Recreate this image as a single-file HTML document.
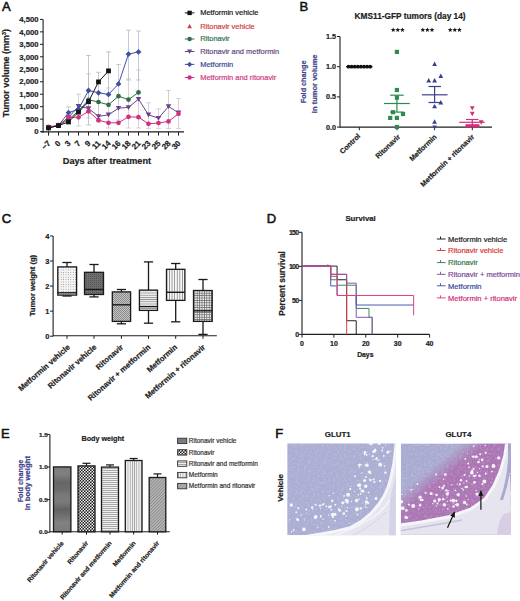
<!DOCTYPE html>
<html><head><meta charset="utf-8"><style>
html,body{margin:0;padding:0;background:#fff;}
svg{display:block;}
text{font-family:"Liberation Sans", sans-serif;}
</style></head><body>
<svg width="520" height="601" viewBox="0 0 520 601" font-family='"Liberation Sans", sans-serif'>
<rect width="520" height="601" fill="#fff"/>
<defs>
<pattern id="p_dots" width="2.4" height="2.4" patternUnits="userSpaceOnUse"><rect width="2.4" height="2.4" fill="#f4f4f4"/><circle cx="1.2" cy="1.2" r="0.45" fill="#777"/></pattern>
<pattern id="p_dark" width="2" height="2" patternUnits="userSpaceOnUse"><rect width="2" height="2" fill="#6e6e6e"/><rect width="1" height="1" fill="#555"/></pattern>
<pattern id="p_check" width="2" height="2" patternUnits="userSpaceOnUse"><rect width="2" height="2" fill="#c4c4c4"/><rect width="1" height="1" fill="#8a8a8a"/><rect x="1" y="1" width="1" height="1" fill="#8a8a8a"/></pattern>
<pattern id="p_hlines" width="3" height="2.2" patternUnits="userSpaceOnUse"><rect width="3" height="2.2" fill="#f2f2f2"/><rect width="3" height="0.8" fill="#8a8a8a"/></pattern>
<pattern id="p_vlines" width="2.6" height="3" patternUnits="userSpaceOnUse"><rect width="2.6" height="3" fill="#f6f6f6"/><rect width="0.7" height="3" fill="#777"/></pattern>
<pattern id="p_grid" width="2.4" height="2.4" patternUnits="userSpaceOnUse"><rect width="2.4" height="2.4" fill="#eeeeee"/><rect width="2.4" height="0.7" fill="#666"/><rect width="0.7" height="2.4" fill="#666"/></pattern>
<linearGradient id="p_bands" gradientUnits="userSpaceOnUse" x1="0" y1="466" x2="0" y2="532">
<stop offset="0" stop-color="#7c7c7c"/><stop offset="0.12" stop-color="#808080"/><stop offset="0.25" stop-color="#666"/><stop offset="0.36" stop-color="#6c6c6c"/>
<stop offset="0.45" stop-color="#7a7a7a"/><stop offset="0.55" stop-color="#7a7a7a"/><stop offset="0.66" stop-color="#626262"/><stop offset="0.76" stop-color="#707070"/><stop offset="0.86" stop-color="#828282"/><stop offset="1" stop-color="#7a7a7a"/></linearGradient>
<pattern id="p_checker" x="0" y="0" width="3" height="3" patternUnits="userSpaceOnUse"><rect width="3" height="3" fill="#1a1a1a"/><rect x="0" y="0" width="1.6" height="1.6" rx="0.35" fill="#f6f6f6"/><rect x="1.5" y="1.5" width="1.6" height="1.6" rx="0.35" fill="#f6f6f6"/></pattern>
<pattern id="p_hlines2" width="3" height="2" patternUnits="userSpaceOnUse"><rect width="3" height="2" fill="#f0f0f0"/><rect width="3" height="0.7" fill="#8a8a8a"/></pattern>
<pattern id="p_vlines2" width="2.2" height="3" patternUnits="userSpaceOnUse"><rect width="2.2" height="3" fill="#efefef"/><rect width="0.7" height="3" fill="#9a9a9a"/></pattern>
<pattern id="p_diag" width="2.2" height="2.2" patternUnits="userSpaceOnUse" patternTransform="rotate(45)"><rect width="2.2" height="2.2" fill="#b8b8b8"/><rect width="0.9" height="2.2" fill="#8a8a8a"/></pattern>
<radialGradient id="g_mag" gradientUnits="userSpaceOnUse" cx="520" cy="545" r="125">
<stop offset="0.55" stop-color="#a878bc" stop-opacity="1"/>
<stop offset="0.78" stop-color="#ac86c4" stop-opacity="0.85"/>
<stop offset="1" stop-color="#abacd8" stop-opacity="0"/>
</radialGradient>
<linearGradient id="g_band" gradientUnits="userSpaceOnUse" x1="432.5" y1="466.8" x2="442.5" y2="479.2">
<stop offset="0" stop-color="#ac6aae" stop-opacity="0"/>
<stop offset="1" stop-color="#ac6aae" stop-opacity="0.82"/>
</linearGradient>
<filter id="blur6" x="-30%" y="-30%" width="160%" height="160%"><feGaussianBlur stdDeviation="6"/></filter>
<filter id="mottleL" x="0" y="0" width="100%" height="100%"><feTurbulence type="fractalNoise" baseFrequency="0.45" numOctaves="2" seed="3"/><feColorMatrix type="matrix" values="0 0 0 0 1  0 0 0 0 1  0 0 0 0 1  2.6 0 0 0 -1.25"/></filter>
<filter id="mottleD" x="0" y="0" width="100%" height="100%"><feTurbulence type="fractalNoise" baseFrequency="0.5" numOctaves="2" seed="8"/><feColorMatrix type="matrix" values="0 0 0 0 0.42  0 0 0 0 0.40  0 0 0 0 0.55  0 -2.4 0 0 1.0"/></filter>
</defs>
<text x="1.9" y="11.3" font-size="13" text-anchor="start" fill="#111" stroke="#111" stroke-width="0.55">A</text>
<line x1="43.1" y1="19.4" x2="43.1" y2="132.4" stroke="#1e1e1e" stroke-width="1.1"/>
<line x1="40" y1="19.4" x2="43.1" y2="19.4" stroke="#1e1e1e" stroke-width="1"/>
<text stroke="#222" stroke-width="0.2" x="38.5" y="22.099999999999998" font-size="7.7" font-weight="bold" text-anchor="end" fill="#222">4,500</text>
<line x1="40" y1="31.869999999999997" x2="43.1" y2="31.869999999999997" stroke="#1e1e1e" stroke-width="1"/>
<text stroke="#222" stroke-width="0.2" x="38.5" y="34.57" font-size="7.7" font-weight="bold" text-anchor="end" fill="#222">4,000</text>
<line x1="40" y1="44.34" x2="43.1" y2="44.34" stroke="#1e1e1e" stroke-width="1"/>
<text stroke="#222" stroke-width="0.2" x="38.5" y="47.040000000000006" font-size="7.7" font-weight="bold" text-anchor="end" fill="#222">3,500</text>
<line x1="40" y1="56.81" x2="43.1" y2="56.81" stroke="#1e1e1e" stroke-width="1"/>
<text stroke="#222" stroke-width="0.2" x="38.5" y="59.510000000000005" font-size="7.7" font-weight="bold" text-anchor="end" fill="#222">3,000</text>
<line x1="40" y1="69.28" x2="43.1" y2="69.28" stroke="#1e1e1e" stroke-width="1"/>
<text stroke="#222" stroke-width="0.2" x="38.5" y="71.98" font-size="7.7" font-weight="bold" text-anchor="end" fill="#222">2,500</text>
<line x1="40" y1="81.75" x2="43.1" y2="81.75" stroke="#1e1e1e" stroke-width="1"/>
<text stroke="#222" stroke-width="0.2" x="38.5" y="84.45" font-size="7.7" font-weight="bold" text-anchor="end" fill="#222">2,000</text>
<line x1="40" y1="94.22" x2="43.1" y2="94.22" stroke="#1e1e1e" stroke-width="1"/>
<text stroke="#222" stroke-width="0.2" x="38.5" y="96.92" font-size="7.7" font-weight="bold" text-anchor="end" fill="#222">1,500</text>
<line x1="40" y1="106.69" x2="43.1" y2="106.69" stroke="#1e1e1e" stroke-width="1"/>
<text stroke="#222" stroke-width="0.2" x="38.5" y="109.39" font-size="7.7" font-weight="bold" text-anchor="end" fill="#222">1,000</text>
<line x1="40" y1="119.16" x2="43.1" y2="119.16" stroke="#1e1e1e" stroke-width="1"/>
<text stroke="#222" stroke-width="0.2" x="38.5" y="121.86" font-size="7.7" font-weight="bold" text-anchor="end" fill="#222">500</text>
<line x1="40" y1="131.63" x2="43.1" y2="131.63" stroke="#1e1e1e" stroke-width="1"/>
<text stroke="#222" stroke-width="0.2" x="38.5" y="134.32999999999998" font-size="7.7" font-weight="bold" text-anchor="end" fill="#222">0</text>
<text stroke="#222" stroke-width="0.2" x="0" y="0" font-size="8.95" font-weight="bold" fill="#222" text-anchor="middle" transform="translate(8.9 73.2) rotate(-90)">Tumor volume (mm<tspan font-size="5.5" dy="-3">3</tspan><tspan dy="3">)</tspan></text>
<line x1="41" y1="131.9" x2="184" y2="131.9" stroke="#1e1e1e" stroke-width="1.1"/>
<line x1="48.5" y1="131.9" x2="48.5" y2="135.6" stroke="#1e1e1e" stroke-width="1"/>
<text stroke="#222" stroke-width="0.2" x="51.2" y="143.8" font-size="8.0" font-weight="bold" text-anchor="end" fill="#222" transform="rotate(-45 51.2 143.8)">−7</text>
<line x1="58.5" y1="131.9" x2="58.5" y2="135.6" stroke="#1e1e1e" stroke-width="1"/>
<text stroke="#222" stroke-width="0.2" x="61.2" y="143.8" font-size="8.0" font-weight="bold" text-anchor="end" fill="#222" transform="rotate(-45 61.2 143.8)">0</text>
<line x1="68.5" y1="131.9" x2="68.5" y2="135.6" stroke="#1e1e1e" stroke-width="1"/>
<text stroke="#222" stroke-width="0.2" x="71.2" y="143.8" font-size="8.0" font-weight="bold" text-anchor="end" fill="#222" transform="rotate(-45 71.2 143.8)">3</text>
<line x1="78.5" y1="131.9" x2="78.5" y2="135.6" stroke="#1e1e1e" stroke-width="1"/>
<text stroke="#222" stroke-width="0.2" x="81.2" y="143.8" font-size="8.0" font-weight="bold" text-anchor="end" fill="#222" transform="rotate(-45 81.2 143.8)">7</text>
<line x1="88.5" y1="131.9" x2="88.5" y2="135.6" stroke="#1e1e1e" stroke-width="1"/>
<text stroke="#222" stroke-width="0.2" x="91.2" y="143.8" font-size="8.0" font-weight="bold" text-anchor="end" fill="#222" transform="rotate(-45 91.2 143.8)">9</text>
<line x1="98.5" y1="131.9" x2="98.5" y2="135.6" stroke="#1e1e1e" stroke-width="1"/>
<text stroke="#222" stroke-width="0.2" x="101.2" y="143.8" font-size="8.0" font-weight="bold" text-anchor="end" fill="#222" transform="rotate(-45 101.2 143.8)">11</text>
<line x1="108.5" y1="131.9" x2="108.5" y2="135.6" stroke="#1e1e1e" stroke-width="1"/>
<text stroke="#222" stroke-width="0.2" x="111.2" y="143.8" font-size="8.0" font-weight="bold" text-anchor="end" fill="#222" transform="rotate(-45 111.2 143.8)">14</text>
<line x1="118.5" y1="131.9" x2="118.5" y2="135.6" stroke="#1e1e1e" stroke-width="1"/>
<text stroke="#222" stroke-width="0.2" x="121.2" y="143.8" font-size="8.0" font-weight="bold" text-anchor="end" fill="#222" transform="rotate(-45 121.2 143.8)">16</text>
<line x1="128.5" y1="131.9" x2="128.5" y2="135.6" stroke="#1e1e1e" stroke-width="1"/>
<text stroke="#222" stroke-width="0.2" x="131.2" y="143.8" font-size="8.0" font-weight="bold" text-anchor="end" fill="#222" transform="rotate(-45 131.2 143.8)">18</text>
<line x1="138.5" y1="131.9" x2="138.5" y2="135.6" stroke="#1e1e1e" stroke-width="1"/>
<text stroke="#222" stroke-width="0.2" x="141.2" y="143.8" font-size="8.0" font-weight="bold" text-anchor="end" fill="#222" transform="rotate(-45 141.2 143.8)">21</text>
<line x1="148.5" y1="131.9" x2="148.5" y2="135.6" stroke="#1e1e1e" stroke-width="1"/>
<text stroke="#222" stroke-width="0.2" x="151.2" y="143.8" font-size="8.0" font-weight="bold" text-anchor="end" fill="#222" transform="rotate(-45 151.2 143.8)">23</text>
<line x1="158.5" y1="131.9" x2="158.5" y2="135.6" stroke="#1e1e1e" stroke-width="1"/>
<text stroke="#222" stroke-width="0.2" x="161.2" y="143.8" font-size="8.0" font-weight="bold" text-anchor="end" fill="#222" transform="rotate(-45 161.2 143.8)">25</text>
<line x1="168.5" y1="131.9" x2="168.5" y2="135.6" stroke="#1e1e1e" stroke-width="1"/>
<text stroke="#222" stroke-width="0.2" x="171.2" y="143.8" font-size="8.0" font-weight="bold" text-anchor="end" fill="#222" transform="rotate(-45 171.2 143.8)">28</text>
<line x1="178.5" y1="131.9" x2="178.5" y2="135.6" stroke="#1e1e1e" stroke-width="1"/>
<text stroke="#222" stroke-width="0.2" x="181.2" y="143.8" font-size="8.0" font-weight="bold" text-anchor="end" fill="#222" transform="rotate(-45 181.2 143.8)">30</text>
<text stroke="#222" stroke-width="0.2" x="62.8" y="163.5" font-size="9.15" font-weight="bold" text-anchor="start" fill="#222">Days after treatment</text>
<line x1="68.5" y1="106.9" x2="68.5" y2="124" stroke="#a8a8c8" stroke-width="0.8" opacity="0.75"/>
<line x1="66.0" y1="106.9" x2="71.0" y2="106.9" stroke="#a8a8c8" stroke-width="0.8" opacity="0.75"/>
<line x1="66.0" y1="124" x2="71.0" y2="124" stroke="#a8a8c8" stroke-width="0.8" opacity="0.75"/>
<line x1="78.5" y1="94.2" x2="78.5" y2="126" stroke="#b0c0b8" stroke-width="0.8" opacity="0.75"/>
<line x1="76.0" y1="94.2" x2="81.0" y2="94.2" stroke="#b0c0b8" stroke-width="0.8" opacity="0.75"/>
<line x1="76.0" y1="126" x2="81.0" y2="126" stroke="#b0c0b8" stroke-width="0.8" opacity="0.75"/>
<line x1="88.5" y1="55.5" x2="88.5" y2="125" stroke="#a0a4c0" stroke-width="0.8" opacity="0.75"/>
<line x1="86.0" y1="55.5" x2="91.0" y2="55.5" stroke="#a0a4c0" stroke-width="0.8" opacity="0.75"/>
<line x1="86.0" y1="125" x2="91.0" y2="125" stroke="#a0a4c0" stroke-width="0.8" opacity="0.75"/>
<line x1="88.5" y1="73.9" x2="88.5" y2="118" stroke="#c8a8b8" stroke-width="0.8" opacity="0.75"/>
<line x1="86.0" y1="73.9" x2="91.0" y2="73.9" stroke="#c8a8b8" stroke-width="0.8" opacity="0.75"/>
<line x1="86.0" y1="118" x2="91.0" y2="118" stroke="#c8a8b8" stroke-width="0.8" opacity="0.75"/>
<line x1="98.5" y1="72.3" x2="98.5" y2="122" stroke="#b0a0a8" stroke-width="0.8" opacity="0.75"/>
<line x1="96.0" y1="72.3" x2="101.0" y2="72.3" stroke="#b0a0a8" stroke-width="0.8" opacity="0.75"/>
<line x1="96.0" y1="122" x2="101.0" y2="122" stroke="#b0a0a8" stroke-width="0.8" opacity="0.75"/>
<line x1="108.5" y1="51.9" x2="108.5" y2="95" stroke="#a0a0a0" stroke-width="0.8" opacity="0.75"/>
<line x1="106.0" y1="51.9" x2="111.0" y2="51.9" stroke="#a0a0a0" stroke-width="0.8" opacity="0.75"/>
<line x1="106.0" y1="95" x2="111.0" y2="95" stroke="#a0a0a0" stroke-width="0.8" opacity="0.75"/>
<line x1="108.5" y1="88" x2="108.5" y2="128" stroke="#c8b0c0" stroke-width="0.8" opacity="0.75"/>
<line x1="106.0" y1="88" x2="111.0" y2="88" stroke="#c8b0c0" stroke-width="0.8" opacity="0.75"/>
<line x1="106.0" y1="128" x2="111.0" y2="128" stroke="#c8b0c0" stroke-width="0.8" opacity="0.75"/>
<line x1="118.5" y1="64.5" x2="118.5" y2="120" stroke="#a8a8c8" stroke-width="0.8" opacity="0.75"/>
<line x1="116.0" y1="64.5" x2="121.0" y2="64.5" stroke="#a8a8c8" stroke-width="0.8" opacity="0.75"/>
<line x1="116.0" y1="120" x2="121.0" y2="120" stroke="#a8a8c8" stroke-width="0.8" opacity="0.75"/>
<line x1="128.5" y1="30.2" x2="128.5" y2="80" stroke="#a0a4c8" stroke-width="0.8" opacity="0.75"/>
<line x1="126.0" y1="30.2" x2="131.0" y2="30.2" stroke="#a0a4c8" stroke-width="0.8" opacity="0.75"/>
<line x1="126.0" y1="80" x2="131.0" y2="80" stroke="#a0a4c8" stroke-width="0.8" opacity="0.75"/>
<line x1="128.5" y1="78.9" x2="128.5" y2="128" stroke="#c8b0c0" stroke-width="0.8" opacity="0.75"/>
<line x1="126.0" y1="78.9" x2="131.0" y2="78.9" stroke="#c8b0c0" stroke-width="0.8" opacity="0.75"/>
<line x1="126.0" y1="128" x2="131.0" y2="128" stroke="#c8b0c0" stroke-width="0.8" opacity="0.75"/>
<line x1="138.5" y1="31.0" x2="138.5" y2="80" stroke="#a0a4c8" stroke-width="0.8" opacity="0.75"/>
<line x1="136.0" y1="31.0" x2="141.0" y2="31.0" stroke="#a0a4c8" stroke-width="0.8" opacity="0.75"/>
<line x1="136.0" y1="80" x2="141.0" y2="80" stroke="#a0a4c8" stroke-width="0.8" opacity="0.75"/>
<line x1="138.5" y1="70" x2="138.5" y2="128" stroke="#c0b0c0" stroke-width="0.8" opacity="0.75"/>
<line x1="136.0" y1="70" x2="141.0" y2="70" stroke="#c0b0c0" stroke-width="0.8" opacity="0.75"/>
<line x1="136.0" y1="128" x2="141.0" y2="128" stroke="#c0b0c0" stroke-width="0.8" opacity="0.75"/>
<line x1="148.5" y1="102.8" x2="148.5" y2="128.4" stroke="#c0b0c8" stroke-width="0.8" opacity="0.75"/>
<line x1="146.0" y1="102.8" x2="151.0" y2="102.8" stroke="#c0b0c8" stroke-width="0.8" opacity="0.75"/>
<line x1="146.0" y1="128.4" x2="151.0" y2="128.4" stroke="#c0b0c8" stroke-width="0.8" opacity="0.75"/>
<line x1="158.5" y1="108.8" x2="158.5" y2="128.4" stroke="#c8b0c8" stroke-width="0.8" opacity="0.75"/>
<line x1="156.0" y1="108.8" x2="161.0" y2="108.8" stroke="#c8b0c8" stroke-width="0.8" opacity="0.75"/>
<line x1="156.0" y1="128.4" x2="161.0" y2="128.4" stroke="#c8b0c8" stroke-width="0.8" opacity="0.75"/>
<line x1="168.5" y1="90.4" x2="168.5" y2="128.4" stroke="#b8a8c0" stroke-width="0.8" opacity="0.75"/>
<line x1="166.0" y1="90.4" x2="171.0" y2="90.4" stroke="#b8a8c0" stroke-width="0.8" opacity="0.75"/>
<line x1="166.0" y1="128.4" x2="171.0" y2="128.4" stroke="#b8a8c0" stroke-width="0.8" opacity="0.75"/>
<line x1="178.5" y1="98.4" x2="178.5" y2="128.4" stroke="#c0b0c0" stroke-width="0.8" opacity="0.75"/>
<line x1="176.0" y1="98.4" x2="181.0" y2="98.4" stroke="#c0b0c0" stroke-width="0.8" opacity="0.75"/>
<line x1="176.0" y1="128.4" x2="181.0" y2="128.4" stroke="#c0b0c0" stroke-width="0.8" opacity="0.75"/>
<polyline points="48.50,127.50 58.50,125.40 68.50,117.50 78.50,106.30 88.50,108.40 98.50,116.40 108.50,114.80 118.50,108.20 128.50,107.40 138.50,99.20 148.50,114.80 158.50,118.20 168.50,106.40 178.50,112.80" fill="none" stroke="#6a448c" stroke-width="1.0"/>
<polygon points="45.7,125.3 51.3,125.3 48.5,130.1" fill="#6a448c"/>
<polygon points="55.7,123.2 61.3,123.2 58.5,128.0" fill="#6a448c"/>
<polygon points="65.7,115.3 71.3,115.3 68.5,120.1" fill="#6a448c"/>
<polygon points="75.7,104.1 81.3,104.1 78.5,108.89999999999999" fill="#6a448c"/>
<polygon points="85.7,106.2 91.3,106.2 88.5,111.0" fill="#6a448c"/>
<polygon points="95.7,114.2 101.3,114.2 98.5,119.0" fill="#6a448c"/>
<polygon points="105.7,112.6 111.3,112.6 108.5,117.39999999999999" fill="#6a448c"/>
<polygon points="115.7,106.0 121.3,106.0 118.5,110.8" fill="#6a448c"/>
<polygon points="125.7,105.2 131.3,105.2 128.5,110.0" fill="#6a448c"/>
<polygon points="135.7,97.0 141.3,97.0 138.5,101.8" fill="#6a448c"/>
<polygon points="145.7,112.6 151.3,112.6 148.5,117.39999999999999" fill="#6a448c"/>
<polygon points="155.7,116.0 161.3,116.0 158.5,120.8" fill="#6a448c"/>
<polygon points="165.7,104.2 171.3,104.2 168.5,109.0" fill="#6a448c"/>
<polygon points="175.7,110.6 181.3,110.6 178.5,115.39999999999999" fill="#6a448c"/>
<polyline points="48.50,127.80 58.50,125.40 68.50,119.50 78.50,111.00 88.50,99.80 98.50,102.00 108.50,104.80 118.50,96.20 128.50,99.60 138.50,92.40" fill="none" stroke="#2c6e4a" stroke-width="1.0"/>
<circle cx="48.5" cy="127.8" r="2.35" fill="#2c6e4a"/>
<circle cx="58.5" cy="125.4" r="2.35" fill="#2c6e4a"/>
<circle cx="68.5" cy="119.5" r="2.35" fill="#2c6e4a"/>
<circle cx="78.5" cy="111.0" r="2.35" fill="#2c6e4a"/>
<circle cx="88.5" cy="99.8" r="2.35" fill="#2c6e4a"/>
<circle cx="98.5" cy="102.0" r="2.35" fill="#2c6e4a"/>
<circle cx="108.5" cy="104.8" r="2.35" fill="#2c6e4a"/>
<circle cx="118.5" cy="96.2" r="2.35" fill="#2c6e4a"/>
<circle cx="128.5" cy="99.6" r="2.35" fill="#2c6e4a"/>
<circle cx="138.5" cy="92.4" r="2.35" fill="#2c6e4a"/>
<polyline points="48.50,128.00 58.50,125.40 68.50,112.70 78.50,109.20 88.50,90.50 98.50,92.80 108.50,94.40 118.50,83.90 128.50,54.10 138.50,51.90" fill="none" stroke="#3f50a4" stroke-width="1.0"/>
<polygon points="48.5,125.1 51.4,128.0 48.5,130.9 45.6,128.0" fill="#3f50a4"/>
<polygon points="58.5,122.5 61.4,125.4 58.5,128.3 55.6,125.4" fill="#3f50a4"/>
<polygon points="68.5,109.8 71.4,112.7 68.5,115.60000000000001 65.6,112.7" fill="#3f50a4"/>
<polygon points="78.5,106.3 81.4,109.2 78.5,112.10000000000001 75.6,109.2" fill="#3f50a4"/>
<polygon points="88.5,87.6 91.4,90.5 88.5,93.4 85.6,90.5" fill="#3f50a4"/>
<polygon points="98.5,89.89999999999999 101.4,92.8 98.5,95.7 95.6,92.8" fill="#3f50a4"/>
<polygon points="108.5,91.5 111.4,94.4 108.5,97.30000000000001 105.6,94.4" fill="#3f50a4"/>
<polygon points="118.5,81.0 121.4,83.9 118.5,86.80000000000001 115.6,83.9" fill="#3f50a4"/>
<polygon points="128.5,51.2 131.4,54.1 128.5,57.0 125.6,54.1" fill="#3f50a4"/>
<polygon points="138.5,49.0 141.4,51.9 138.5,54.8 135.6,51.9" fill="#3f50a4"/>
<polyline points="48.50,126.80 58.50,125.40 68.50,117.30 78.50,117.30 88.50,111.30 98.50,120.20 108.50,122.80 118.50,122.80 128.50,116.80 138.50,117.20 148.50,123.80 158.50,123.00 168.50,121.40 178.50,113.80" fill="none" stroke="#d2307e" stroke-width="1.0"/>
<circle cx="48.5" cy="126.8" r="2.35" fill="#d2307e"/>
<circle cx="58.5" cy="125.4" r="2.35" fill="#d2307e"/>
<circle cx="68.5" cy="117.3" r="2.35" fill="#d2307e"/>
<circle cx="78.5" cy="117.3" r="2.35" fill="#d2307e"/>
<circle cx="88.5" cy="111.3" r="2.35" fill="#d2307e"/>
<circle cx="98.5" cy="120.2" r="2.35" fill="#d2307e"/>
<circle cx="108.5" cy="122.8" r="2.35" fill="#d2307e"/>
<circle cx="118.5" cy="122.8" r="2.35" fill="#d2307e"/>
<circle cx="128.5" cy="116.8" r="2.35" fill="#d2307e"/>
<circle cx="138.5" cy="117.2" r="2.35" fill="#d2307e"/>
<circle cx="148.5" cy="123.8" r="2.35" fill="#d2307e"/>
<circle cx="158.5" cy="123.0" r="2.35" fill="#d2307e"/>
<circle cx="168.5" cy="121.4" r="2.35" fill="#d2307e"/>
<circle cx="178.5" cy="113.8" r="2.35" fill="#d2307e"/>
<polyline points="48.50,127.90 58.50,125.60 68.50,121.90 78.50,112.10 88.50,101.70 98.50,81.90 108.50,70.90" fill="none" stroke="#141414" stroke-width="1.0"/>
<rect x="46.1" y="125.5" width="4.8" height="4.8" fill="#141414"/>
<rect x="56.1" y="123.19999999999999" width="4.8" height="4.8" fill="#141414"/>
<rect x="66.1" y="119.5" width="4.8" height="4.8" fill="#141414"/>
<rect x="76.1" y="109.69999999999999" width="4.8" height="4.8" fill="#141414"/>
<rect x="86.1" y="99.3" width="4.8" height="4.8" fill="#141414"/>
<rect x="96.1" y="79.5" width="4.8" height="4.8" fill="#141414"/>
<rect x="106.1" y="68.5" width="4.8" height="4.8" fill="#141414"/>
<line x1="184.8" y1="12.9" x2="194.4" y2="12.9" stroke="#141414" stroke-width="1"/>
<rect x="187.4" y="10.7" width="4.4" height="4.4" fill="#141414"/>
<text stroke="#1a1a1a" stroke-width="0.2" x="200.2" y="15.3" font-size="7.45" text-anchor="start" fill="#1a1a1a">Metformin vehicle</text>
<polygon points="187.29999999999998,28.3 191.9,28.3 189.6,24.0" fill="#d03a44"/>
<text stroke="#d0424a" stroke-width="0.2" x="200.2" y="28.7" font-size="7.45" text-anchor="start" fill="#d0424a">Ritonavir vehicle</text>
<line x1="184.8" y1="39.0" x2="194.4" y2="39.0" stroke="#2c6e4a" stroke-width="1"/>
<circle cx="189.6" cy="39.0" r="2.2" fill="#2c6e4a"/>
<text stroke="#2f7450" stroke-width="0.2" x="200.2" y="41.4" font-size="7.45" text-anchor="start" fill="#2f7450">Ritonavir</text>
<line x1="184.8" y1="51.5" x2="194.4" y2="51.5" stroke="#6a448c" stroke-width="1"/>
<polygon points="187.1,49.5 192.1,49.5 189.6,53.9" fill="#6a448c"/>
<text stroke="#674a86" stroke-width="0.2" x="200.2" y="53.9" font-size="7.45" text-anchor="start" fill="#674a86">Ritonavir and metformin</text>
<line x1="184.8" y1="64.4" x2="194.4" y2="64.4" stroke="#3f50a4" stroke-width="1"/>
<polygon points="189.6,61.7 192.29999999999998,64.4 189.6,67.10000000000001 186.9,64.4" fill="#3f50a4"/>
<text stroke="#3c4c98" stroke-width="0.2" x="200.2" y="66.80000000000001" font-size="7.45" text-anchor="start" fill="#3c4c98">Metformin</text>
<line x1="184.8" y1="77.5" x2="194.4" y2="77.5" stroke="#d2307e" stroke-width="1"/>
<circle cx="189.6" cy="77.5" r="2.2" fill="#d2307e"/>
<text stroke="#d03a82" stroke-width="0.2" x="200.2" y="79.9" font-size="7.45" text-anchor="start" fill="#d03a82">Metformin and ritonavir</text>
<text x="299.4" y="11.3" font-size="13" text-anchor="start" fill="#111" stroke="#111" stroke-width="0.55">B</text>
<text stroke="#222" stroke-width="0.2" x="354.6" y="19.0" font-size="8.3" font-weight="bold" text-anchor="start" fill="#222">KMS11-GFP tumors (day 14)</text>
<polygon points="393.20,27.40 393.86,28.99 395.58,29.13 394.27,30.25 394.67,31.92 393.20,31.02 391.73,31.92 392.13,30.25 390.82,29.13 392.54,28.99" fill="#1a1a1a"/>
<polygon points="397.80,27.40 398.46,28.99 400.18,29.13 398.87,30.25 399.27,31.92 397.80,31.02 396.33,31.92 396.73,30.25 395.42,29.13 397.14,28.99" fill="#1a1a1a"/>
<polygon points="402.40,27.40 403.06,28.99 404.78,29.13 403.47,30.25 403.87,31.92 402.40,31.02 400.93,31.92 401.33,30.25 400.02,29.13 401.74,28.99" fill="#1a1a1a"/>
<polygon points="422.80,27.40 423.46,28.99 425.18,29.13 423.87,30.25 424.27,31.92 422.80,31.02 421.33,31.92 421.73,30.25 420.42,29.13 422.14,28.99" fill="#1a1a1a"/>
<polygon points="427.40,27.40 428.06,28.99 429.78,29.13 428.47,30.25 428.87,31.92 427.40,31.02 425.93,31.92 426.33,30.25 425.02,29.13 426.74,28.99" fill="#1a1a1a"/>
<polygon points="432.00,27.40 432.66,28.99 434.38,29.13 433.07,30.25 433.47,31.92 432.00,31.02 430.53,31.92 430.93,30.25 429.62,29.13 431.34,28.99" fill="#1a1a1a"/>
<polygon points="450.20,27.40 450.86,28.99 452.58,29.13 451.27,30.25 451.67,31.92 450.20,31.02 448.73,31.92 449.13,30.25 447.82,29.13 449.54,28.99" fill="#1a1a1a"/>
<polygon points="454.80,27.40 455.46,28.99 457.18,29.13 455.87,30.25 456.27,31.92 454.80,31.02 453.33,31.92 453.73,30.25 452.42,29.13 454.14,28.99" fill="#1a1a1a"/>
<polygon points="459.40,27.40 460.06,28.99 461.78,29.13 460.47,30.25 460.87,31.92 459.40,31.02 457.93,31.92 458.33,30.25 457.02,29.13 458.74,28.99" fill="#1a1a1a"/>
<line x1="340" y1="36.5" x2="340" y2="127.6" stroke="#1e1e1e" stroke-width="1.1"/>
<line x1="337" y1="36.5" x2="340" y2="36.5" stroke="#1e1e1e" stroke-width="1"/>
<text stroke="#222" stroke-width="0.2" x="336.0" y="39.0" font-size="7.2" font-weight="bold" text-anchor="end" fill="#222">1.5</text>
<line x1="337" y1="66.7" x2="340" y2="66.7" stroke="#1e1e1e" stroke-width="1"/>
<text stroke="#222" stroke-width="0.2" x="336.0" y="69.2" font-size="7.2" font-weight="bold" text-anchor="end" fill="#222">1.0</text>
<line x1="337" y1="96.9" x2="340" y2="96.9" stroke="#1e1e1e" stroke-width="1"/>
<text stroke="#222" stroke-width="0.2" x="336.0" y="99.4" font-size="7.2" font-weight="bold" text-anchor="end" fill="#222">0.5</text>
<line x1="337" y1="127.1" x2="340" y2="127.1" stroke="#1e1e1e" stroke-width="1"/>
<text stroke="#222" stroke-width="0.2" x="336.0" y="129.6" font-size="7.2" font-weight="bold" text-anchor="end" fill="#222">0.0</text>
<line x1="340" y1="127.1" x2="492" y2="127.1" stroke="#1e1e1e" stroke-width="1.1"/>
<line x1="359.3" y1="127.1" x2="359.3" y2="130.2" stroke="#1e1e1e" stroke-width="1"/>
<line x1="397.0" y1="127.1" x2="397.0" y2="130.2" stroke="#1e1e1e" stroke-width="1"/>
<line x1="434.6" y1="127.1" x2="434.6" y2="130.2" stroke="#1e1e1e" stroke-width="1"/>
<line x1="472.3" y1="127.1" x2="472.3" y2="130.2" stroke="#1e1e1e" stroke-width="1"/>
<text stroke="#43428a" stroke-width="0.2" x="0" y="0" font-size="7.25" font-weight="bold" fill="#43428a" text-anchor="middle" transform="translate(306.3 81.9) rotate(-90)">Fold change</text>
<text stroke="#43428a" stroke-width="0.2" x="0" y="0" font-size="7.55" font-weight="bold" fill="#43428a" text-anchor="middle" transform="translate(317.4 83.8) rotate(-90)">in tumor volume</text>
<circle cx="348.5" cy="66.7" r="1.9" fill="#111"/>
<circle cx="351.6" cy="66.7" r="1.9" fill="#111"/>
<circle cx="354.7" cy="66.7" r="1.9" fill="#111"/>
<circle cx="357.8" cy="66.7" r="1.9" fill="#111"/>
<circle cx="360.9" cy="66.7" r="1.9" fill="#111"/>
<circle cx="364.0" cy="66.7" r="1.9" fill="#111"/>
<circle cx="367.1" cy="66.7" r="1.9" fill="#111"/>
<circle cx="370.2" cy="66.7" r="1.9" fill="#111"/>
<line x1="346" y1="66.7" x2="372.5" y2="66.7" stroke="#111" stroke-width="1.2"/>
<rect x="394.79999999999995" y="49.8" width="4.2" height="4.2" fill="#2e8a50"/>
<rect x="394.79999999999995" y="87.9" width="4.2" height="4.2" fill="#2e8a50"/>
<rect x="394.79999999999995" y="95.60000000000001" width="4.2" height="4.2" fill="#2e8a50"/>
<rect x="400.9" y="111.9" width="4.2" height="4.2" fill="#2e8a50"/>
<rect x="388.09999999999997" y="115.80000000000001" width="4.2" height="4.2" fill="#2e8a50"/>
<rect x="394.79999999999995" y="115.80000000000001" width="4.2" height="4.2" fill="#2e8a50"/>
<rect x="390.9" y="110.10000000000001" width="4.2" height="4.2" fill="#2e8a50"/>
<rect x="394.79999999999995" y="124.9" width="4.2" height="4.2" fill="#2e8a50"/>
<line x1="384" y1="103.5" x2="409.8" y2="103.5" stroke="#2e8a50" stroke-width="1.2"/>
<line x1="390.2" y1="95.2" x2="403.7" y2="95.2" stroke="#2e8a50" stroke-width="1.2"/>
<line x1="390.2" y1="112.1" x2="403.7" y2="112.1" stroke="#2e8a50" stroke-width="1.2"/>
<line x1="396.9" y1="95.2" x2="396.9" y2="112.1" stroke="#2e8a50" stroke-width="1.2"/>
<polygon points="432.20000000000005,66 437.0,66 434.6,61.6" fill="#3b3f94"/>
<polygon points="438.40000000000003,78 443.2,78 440.8,73.6" fill="#3b3f94"/>
<polygon points="426.3,82.4 431.09999999999997,82.4 428.7,78.0" fill="#3b3f94"/>
<polygon points="432.20000000000005,82.4 437.0,82.4 434.6,78.0" fill="#3b3f94"/>
<polygon points="438.40000000000003,104.5 443.2,104.5 440.8,100.1" fill="#3b3f94"/>
<polygon points="432.20000000000005,108.3 437.0,108.3 434.6,103.89999999999999" fill="#3b3f94"/>
<polygon points="432.20000000000005,123.7 437.0,123.7 434.6,119.3" fill="#3b3f94"/>
<polygon points="432.4,125.6 436.8,125.6 434.6,129.2" fill="#3b3f94"/>
<line x1="421.9" y1="94.8" x2="447.5" y2="94.8" stroke="#3b3f94" stroke-width="1.2"/>
<line x1="428.5" y1="86.5" x2="441" y2="86.5" stroke="#3b3f94" stroke-width="1.2"/>
<line x1="428.5" y1="102.5" x2="441" y2="102.5" stroke="#3b3f94" stroke-width="1.2"/>
<line x1="434.6" y1="86.5" x2="434.6" y2="102.5" stroke="#3b3f94" stroke-width="1.2"/>
<polygon points="469.90000000000003,106.2 474.7,106.2 472.3,110.60000000000001" fill="#d0307a"/>
<polygon points="469.90000000000003,111.8 474.7,111.8 472.3,116.2" fill="#d0307a"/>
<polygon points="478.8,120.3 483.59999999999997,120.3 481.2,124.7" fill="#d0307a"/>
<line x1="459.2" y1="122.3" x2="484.6" y2="122.3" stroke="#d0307a" stroke-width="1.2"/>
<line x1="466" y1="119.5" x2="478.5" y2="119.5" stroke="#d0307a" stroke-width="1.2"/>
<line x1="472.3" y1="119.5" x2="472.3" y2="126" stroke="#d0307a" stroke-width="1.2"/>
<rect x="465.5" y="124.2" width="14" height="3.4" fill="#d0307a"/>
<text stroke="#222" stroke-width="0.2" x="360.8" y="136.6" font-size="7.2" font-weight="bold" text-anchor="end" fill="#222" transform="rotate(-44 360.8 136.6)">Control</text>
<text stroke="#222" stroke-width="0.2" x="400.7" y="137.4" font-size="7.2" font-weight="bold" text-anchor="end" fill="#222" transform="rotate(-44 400.7 137.4)">Ritonavir</text>
<text stroke="#222" stroke-width="0.2" x="437.2" y="137.4" font-size="7.2" font-weight="bold" text-anchor="end" fill="#222" transform="rotate(-44 437.2 137.4)">Metformin</text>
<text stroke="#222" stroke-width="0.2" x="474.8" y="137.4" font-size="7.2" font-weight="bold" text-anchor="end" fill="#222" transform="rotate(-44 474.8 137.4)">Metformin + ritonavir</text>
<text x="1.8" y="223.0" font-size="13" text-anchor="start" fill="#111" stroke="#111" stroke-width="0.55">C</text>
<line x1="53.1" y1="236" x2="53.1" y2="336.3" stroke="#1e1e1e" stroke-width="1.1"/>
<line x1="50" y1="236.0" x2="53.1" y2="236.0" stroke="#1e1e1e" stroke-width="1"/>
<text stroke="#222" stroke-width="0.2" x="49.3" y="238.7" font-size="7.4" font-weight="bold" text-anchor="end" fill="#222">4</text>
<line x1="50" y1="261.05" x2="53.1" y2="261.05" stroke="#1e1e1e" stroke-width="1"/>
<text stroke="#222" stroke-width="0.2" x="49.3" y="263.75" font-size="7.4" font-weight="bold" text-anchor="end" fill="#222">3</text>
<line x1="50" y1="286.1" x2="53.1" y2="286.1" stroke="#1e1e1e" stroke-width="1"/>
<text stroke="#222" stroke-width="0.2" x="49.3" y="288.8" font-size="7.4" font-weight="bold" text-anchor="end" fill="#222">2</text>
<line x1="50" y1="311.15" x2="53.1" y2="311.15" stroke="#1e1e1e" stroke-width="1"/>
<text stroke="#222" stroke-width="0.2" x="49.3" y="313.84999999999997" font-size="7.4" font-weight="bold" text-anchor="end" fill="#222">1</text>
<line x1="50" y1="336.2" x2="53.1" y2="336.2" stroke="#1e1e1e" stroke-width="1"/>
<text stroke="#222" stroke-width="0.2" x="49.3" y="338.9" font-size="7.4" font-weight="bold" text-anchor="end" fill="#222">0</text>
<text stroke="#222" stroke-width="0.2" x="0" y="0" font-size="7.66" font-weight="bold" fill="#222" text-anchor="middle" transform="translate(34.8 285.6) rotate(-90)">Tumor weight (g)</text>
<line x1="53" y1="335.8" x2="216.8" y2="335.8" stroke="#1e1e1e" stroke-width="1.1"/>
<line x1="67.0" y1="262.5" x2="67.0" y2="266.9" stroke="#1a1a1a" stroke-width="1.3"/>
<line x1="67.0" y1="295.1" x2="67.0" y2="296.0" stroke="#1a1a1a" stroke-width="1.3"/>
<line x1="62.4" y1="262.5" x2="71.6" y2="262.5" stroke="#1a1a1a" stroke-width="1.3"/>
<line x1="62.4" y1="296.0" x2="71.6" y2="296.0" stroke="#1a1a1a" stroke-width="1.3"/>
<rect x="57.8" y="266.9" width="18.799999999999997" height="28.200000000000045" fill="url(#p_dots)" stroke="#1a1a1a" stroke-width="1.3"/>
<line x1="57.8" y1="292.8" x2="76.6" y2="292.8" stroke="#1a1a1a" stroke-width="1.4"/>
<line x1="67.0" y1="335.8" x2="67.0" y2="338.8" stroke="#1e1e1e" stroke-width="1"/>
<line x1="94.0" y1="264.5" x2="94.0" y2="272.3" stroke="#1a1a1a" stroke-width="1.3"/>
<line x1="94.0" y1="294.5" x2="94.0" y2="296.9" stroke="#1a1a1a" stroke-width="1.3"/>
<line x1="89.4" y1="264.5" x2="98.6" y2="264.5" stroke="#1a1a1a" stroke-width="1.3"/>
<line x1="89.4" y1="296.9" x2="98.6" y2="296.9" stroke="#1a1a1a" stroke-width="1.3"/>
<rect x="84.5" y="272.3" width="19.0" height="22.19999999999999" fill="url(#p_dark)" stroke="#1a1a1a" stroke-width="1.3"/>
<line x1="84.5" y1="289.5" x2="103.5" y2="289.5" stroke="#1a1a1a" stroke-width="1.4"/>
<line x1="94.0" y1="335.8" x2="94.0" y2="338.8" stroke="#1e1e1e" stroke-width="1"/>
<line x1="121.4" y1="289.5" x2="121.4" y2="291.9" stroke="#1a1a1a" stroke-width="1.3"/>
<line x1="121.4" y1="321.4" x2="121.4" y2="323.8" stroke="#1a1a1a" stroke-width="1.3"/>
<line x1="116.80000000000001" y1="289.5" x2="126.0" y2="289.5" stroke="#1a1a1a" stroke-width="1.3"/>
<line x1="116.80000000000001" y1="323.8" x2="126.0" y2="323.8" stroke="#1a1a1a" stroke-width="1.3"/>
<rect x="112.3" y="291.9" width="18.299999999999997" height="29.5" fill="url(#p_check)" stroke="#1a1a1a" stroke-width="1.3"/>
<line x1="112.3" y1="304.8" x2="130.6" y2="304.8" stroke="#1a1a1a" stroke-width="1.4"/>
<line x1="121.4" y1="335.8" x2="121.4" y2="338.8" stroke="#1e1e1e" stroke-width="1"/>
<line x1="148.5" y1="261.9" x2="148.5" y2="290.1" stroke="#1a1a1a" stroke-width="1.3"/>
<line x1="148.5" y1="310.4" x2="148.5" y2="323.2" stroke="#1a1a1a" stroke-width="1.3"/>
<line x1="143.9" y1="261.9" x2="153.1" y2="261.9" stroke="#1a1a1a" stroke-width="1.3"/>
<line x1="143.9" y1="323.2" x2="153.1" y2="323.2" stroke="#1a1a1a" stroke-width="1.3"/>
<rect x="139.4" y="290.1" width="18.099999999999994" height="20.299999999999955" fill="url(#p_hlines)" stroke="#1a1a1a" stroke-width="1.3"/>
<line x1="139.4" y1="306.6" x2="157.5" y2="306.6" stroke="#1a1a1a" stroke-width="1.4"/>
<line x1="148.5" y1="335.8" x2="148.5" y2="338.8" stroke="#1e1e1e" stroke-width="1"/>
<line x1="175.7" y1="263.5" x2="175.7" y2="269.3" stroke="#1a1a1a" stroke-width="1.3"/>
<line x1="175.7" y1="300.4" x2="175.7" y2="321.8" stroke="#1a1a1a" stroke-width="1.3"/>
<line x1="171.1" y1="263.5" x2="180.29999999999998" y2="263.5" stroke="#1a1a1a" stroke-width="1.3"/>
<line x1="171.1" y1="321.8" x2="180.29999999999998" y2="321.8" stroke="#1a1a1a" stroke-width="1.3"/>
<rect x="166.5" y="269.3" width="18.400000000000006" height="31.099999999999966" fill="url(#p_vlines)" stroke="#1a1a1a" stroke-width="1.3"/>
<line x1="166.5" y1="292.3" x2="184.9" y2="292.3" stroke="#1a1a1a" stroke-width="1.4"/>
<line x1="175.7" y1="335.8" x2="175.7" y2="338.8" stroke="#1e1e1e" stroke-width="1"/>
<line x1="203.0" y1="279.5" x2="203.0" y2="290.5" stroke="#1a1a1a" stroke-width="1.3"/>
<line x1="203.0" y1="321.4" x2="203.0" y2="334.4" stroke="#1a1a1a" stroke-width="1.3"/>
<line x1="198.4" y1="279.5" x2="207.6" y2="279.5" stroke="#1a1a1a" stroke-width="1.3"/>
<line x1="198.4" y1="334.4" x2="207.6" y2="334.4" stroke="#1a1a1a" stroke-width="1.3"/>
<rect x="193.5" y="290.5" width="18.69999999999999" height="30.899999999999977" fill="url(#p_grid)" stroke="#1a1a1a" stroke-width="1.3"/>
<line x1="193.5" y1="310.8" x2="212.2" y2="310.8" stroke="#1a1a1a" stroke-width="1.4"/>
<line x1="203.0" y1="335.8" x2="203.0" y2="338.8" stroke="#1e1e1e" stroke-width="1"/>
<text stroke="#222" stroke-width="0.2" x="70.6" y="347.9" font-size="7.75" font-weight="bold" text-anchor="end" fill="#222" transform="rotate(-41.5 70.6 347.9)">Metformin vehicle</text>
<text stroke="#222" stroke-width="0.2" x="97.1" y="347.9" font-size="7.75" font-weight="bold" text-anchor="end" fill="#222" transform="rotate(-41.5 97.1 347.9)">Ritonavir vehicle</text>
<text stroke="#222" stroke-width="0.2" x="123.8" y="347.9" font-size="7.75" font-weight="bold" text-anchor="end" fill="#222" transform="rotate(-41.5 123.8 347.9)">Ritonavir</text>
<text stroke="#222" stroke-width="0.2" x="151.0" y="347.9" font-size="7.75" font-weight="bold" text-anchor="end" fill="#222" transform="rotate(-41.5 151.0 347.9)">Ritonavir + metformin</text>
<text stroke="#222" stroke-width="0.2" x="177.8" y="347.9" font-size="7.75" font-weight="bold" text-anchor="end" fill="#222" transform="rotate(-41.5 177.8 347.9)">Metformin</text>
<text stroke="#222" stroke-width="0.2" x="205.8" y="347.9" font-size="7.75" font-weight="bold" text-anchor="end" fill="#222" transform="rotate(-41.5 205.8 347.9)">Metformin + ritonavir</text>
<text x="266.8" y="223.0" font-size="13" text-anchor="start" fill="#111" stroke="#111" stroke-width="0.55">D</text>
<text stroke="#222" stroke-width="0.2" x="345.4" y="221.3" font-size="7.8" font-weight="bold" text-anchor="start" fill="#222">Survival</text>
<line x1="302" y1="232.3" x2="302" y2="334.9" stroke="#1e1e1e" stroke-width="1.1"/>
<line x1="299" y1="232.3" x2="302" y2="232.3" stroke="#1e1e1e" stroke-width="1"/>
<text stroke="#222" stroke-width="0.2" x="298.4" y="234.5" font-size="7.0" font-weight="bold" text-anchor="end" fill="#222" letter-spacing="-0.75">150</text>
<line x1="299" y1="266.33000000000004" x2="302" y2="266.33000000000004" stroke="#1e1e1e" stroke-width="1"/>
<text stroke="#222" stroke-width="0.2" x="298.4" y="268.53000000000003" font-size="7.0" font-weight="bold" text-anchor="end" fill="#222" letter-spacing="-0.75">100</text>
<line x1="299" y1="300.36" x2="302" y2="300.36" stroke="#1e1e1e" stroke-width="1"/>
<text stroke="#222" stroke-width="0.2" x="298.4" y="302.56" font-size="7.0" font-weight="bold" text-anchor="end" fill="#222" letter-spacing="-0.75">50</text>
<line x1="299" y1="334.39" x2="302" y2="334.39" stroke="#1e1e1e" stroke-width="1"/>
<text stroke="#222" stroke-width="0.2" x="298.4" y="336.59" font-size="7.0" font-weight="bold" text-anchor="end" fill="#222" letter-spacing="-0.75">0</text>
<text stroke="#222" stroke-width="0.2" x="0" y="0" font-size="8.36" font-weight="bold" fill="#222" text-anchor="middle" transform="translate(284.9 283.4) rotate(-90)">Percent survival</text>
<line x1="302" y1="334.4" x2="429.6" y2="334.4" stroke="#1e1e1e" stroke-width="1.1"/>
<line x1="302.0" y1="334.4" x2="302.0" y2="337.6" stroke="#1e1e1e" stroke-width="1"/>
<text stroke="#222" stroke-width="0.2" x="302.0" y="345.6" font-size="7.0" font-weight="bold" text-anchor="middle" fill="#222">0</text>
<line x1="333.9" y1="334.4" x2="333.9" y2="337.6" stroke="#1e1e1e" stroke-width="1"/>
<text stroke="#222" stroke-width="0.2" x="333.9" y="345.6" font-size="7.0" font-weight="bold" text-anchor="middle" fill="#222">10</text>
<line x1="365.8" y1="334.4" x2="365.8" y2="337.6" stroke="#1e1e1e" stroke-width="1"/>
<text stroke="#222" stroke-width="0.2" x="365.8" y="345.6" font-size="7.0" font-weight="bold" text-anchor="middle" fill="#222">20</text>
<line x1="397.7" y1="334.4" x2="397.7" y2="337.6" stroke="#1e1e1e" stroke-width="1"/>
<text stroke="#222" stroke-width="0.2" x="397.7" y="345.6" font-size="7.0" font-weight="bold" text-anchor="middle" fill="#222">30</text>
<line x1="429.6" y1="334.4" x2="429.6" y2="337.6" stroke="#1e1e1e" stroke-width="1"/>
<text stroke="#222" stroke-width="0.2" x="429.6" y="345.6" font-size="7.0" font-weight="bold" text-anchor="middle" fill="#222">40</text>
<text stroke="#222" stroke-width="0.2" x="365.3" y="356.6" font-size="6.8" font-weight="bold" text-anchor="middle" fill="#222">Days</text>
<polyline points="302.00,266.10 337.09,266.10 337.09,266.10 337.09,266.10 337.09,279.76 346.66,279.76 346.66,279.76 346.66,279.76 346.66,320.74 356.23,320.74 356.23,320.74 356.23,320.74 356.23,334.40" fill="none" stroke="#222" stroke-width="1.0"/>
<polyline points="302.00,266.10 330.71,266.10 330.71,266.10 330.71,266.10 330.71,274.30 346.66,274.30 346.66,274.30 346.66,274.30 346.66,334.40" fill="none" stroke="#e0404a" stroke-width="1.0"/>
<polyline points="302.00,266.10 330.71,266.10 330.71,266.10 330.71,266.10 330.71,279.76 337.09,279.76 337.09,279.76 337.09,279.76 337.09,285.22 356.23,285.22 356.23,285.22 356.23,285.22 356.23,308.45 368.99,308.45 368.99,308.45 368.99,308.45 368.99,317.32 372.18,317.32 372.18,317.32 372.18,317.32 372.18,334.40" fill="none" stroke="#3a8a5a" stroke-width="1.0"/>
<polyline points="302.00,266.10 330.71,266.10 330.71,266.10 330.71,266.10 330.71,274.30 346.66,274.30 346.66,274.30 346.66,274.30 346.66,283.17 356.23,283.17 356.23,283.17 356.23,283.17 356.23,317.32 372.18,317.32 372.18,317.32 372.18,317.32 372.18,334.40" fill="none" stroke="#8a5aa8" stroke-width="1.0"/>
<polyline points="302.00,266.10 330.71,266.10 330.71,266.10 330.71,266.10 330.71,285.91 337.09,285.91 337.09,285.91 337.09,285.91 337.09,295.47 356.23,295.47 356.23,295.47 356.23,295.47 356.23,305.03 413.65,305.03 413.65,305.03 413.65,305.03 413.65,305.03" fill="none" stroke="#4a5cb0" stroke-width="1.0"/>
<polyline points="302.00,266.10 330.71,266.10 330.71,266.10 330.71,266.10 330.71,276.34 337.09,276.34 337.09,276.34 337.09,276.34 337.09,295.47 413.65,295.47 413.65,295.47 413.65,295.47 413.65,315.28" fill="none" stroke="#e0407e" stroke-width="1.0"/>
<line x1="327.839" y1="264.09999999999997" x2="327.839" y2="267.09999999999997" stroke="#e0407e" stroke-width="0.8"/>
<line x1="436.9" y1="239.0" x2="445.6" y2="239.0" stroke="#222" stroke-width="1"/>
<line x1="440.5" y1="236.5" x2="440.5" y2="239.0" stroke="#222" stroke-width="1"/>
<text stroke="#222" stroke-width="0.2" x="448" y="241.7" font-size="7.55" text-anchor="start" fill="#222">Metformin vehicle</text>
<line x1="436.9" y1="250.5" x2="445.6" y2="250.5" stroke="#e0404a" stroke-width="1"/>
<line x1="440.5" y1="248.0" x2="440.5" y2="250.5" stroke="#e0404a" stroke-width="1"/>
<text stroke="#d8383c" stroke-width="0.2" x="448" y="253.2" font-size="7.55" text-anchor="start" fill="#d8383c">Ritonavir vehicle</text>
<line x1="436.9" y1="262.6" x2="445.6" y2="262.6" stroke="#3a8a5a" stroke-width="1"/>
<line x1="440.5" y1="260.1" x2="440.5" y2="262.6" stroke="#3a8a5a" stroke-width="1"/>
<text stroke="#2f7a4c" stroke-width="0.2" x="448" y="265.3" font-size="7.55" text-anchor="start" fill="#2f7a4c">Ritonavir</text>
<line x1="436.9" y1="274.3" x2="445.6" y2="274.3" stroke="#8a5aa8" stroke-width="1"/>
<line x1="440.5" y1="271.8" x2="440.5" y2="274.3" stroke="#8a5aa8" stroke-width="1"/>
<text stroke="#7a4a9a" stroke-width="0.2" x="448" y="277.0" font-size="7.55" text-anchor="start" fill="#7a4a9a">Ritonavir + metformin</text>
<line x1="436.9" y1="285.8" x2="445.6" y2="285.8" stroke="#4a5cb0" stroke-width="1"/>
<line x1="440.5" y1="283.3" x2="440.5" y2="285.8" stroke="#4a5cb0" stroke-width="1"/>
<text stroke="#3a4ca0" stroke-width="0.2" x="448" y="288.5" font-size="7.55" text-anchor="start" fill="#3a4ca0">Metformin</text>
<line x1="436.9" y1="297.9" x2="445.6" y2="297.9" stroke="#e0407e" stroke-width="1"/>
<line x1="440.5" y1="295.4" x2="440.5" y2="297.9" stroke="#e0407e" stroke-width="1"/>
<text stroke="#d32f80" stroke-width="0.2" x="448" y="300.59999999999997" font-size="7.55" text-anchor="start" fill="#d32f80">Metformin + ritonavir</text>
<text x="0.9" y="437.5" font-size="13" text-anchor="start" fill="#111" stroke="#111" stroke-width="0.55">E</text>
<text stroke="#222" stroke-width="0.2" x="81.5" y="440.7" font-size="7.2" font-weight="bold" text-anchor="start" fill="#222">Body weight</text>
<line x1="49.9" y1="434.4" x2="49.9" y2="532.6" stroke="#1e1e1e" stroke-width="1.1"/>
<line x1="47" y1="434.4" x2="49.9" y2="434.4" stroke="#1e1e1e" stroke-width="1"/>
<text stroke="#222" stroke-width="0.2" x="47.6" y="436.59999999999997" font-size="6.2" font-weight="bold" text-anchor="end" fill="#222">1.5</text>
<line x1="47" y1="467.0" x2="49.9" y2="467.0" stroke="#1e1e1e" stroke-width="1"/>
<text stroke="#222" stroke-width="0.2" x="47.6" y="469.2" font-size="6.2" font-weight="bold" text-anchor="end" fill="#222">1.0</text>
<line x1="47" y1="499.59999999999997" x2="49.9" y2="499.59999999999997" stroke="#1e1e1e" stroke-width="1"/>
<text stroke="#222" stroke-width="0.2" x="47.6" y="501.79999999999995" font-size="6.2" font-weight="bold" text-anchor="end" fill="#222">0.5</text>
<line x1="47" y1="532.2" x2="49.9" y2="532.2" stroke="#1e1e1e" stroke-width="1"/>
<text stroke="#222" stroke-width="0.2" x="47.6" y="534.4000000000001" font-size="6.2" font-weight="bold" text-anchor="end" fill="#222">0.0</text>
<text stroke="#43428a" stroke-width="0.2" x="0" y="0" font-size="7.25" font-weight="bold" fill="#43428a" text-anchor="middle" transform="translate(23.2 481) rotate(-90)">Fold change</text>
<text stroke="#43428a" stroke-width="0.2" x="0" y="0" font-size="7.75" font-weight="bold" fill="#43428a" text-anchor="middle" transform="translate(30.4 483.1) rotate(-90)">in body weight</text>
<line x1="49.9" y1="531.8" x2="169.8" y2="531.8" stroke="#1e1e1e" stroke-width="1.1"/>
<rect x="53.5" y="466.9" width="17.400000000000006" height="64.89999999999998" fill="url(#p_bands)" stroke="#1a1a1a" stroke-width="1.3"/>
<line x1="62.2" y1="531.8" x2="62.2" y2="534.6" stroke="#1e1e1e" stroke-width="1"/>
<line x1="86.5" y1="463.3" x2="86.5" y2="465.9" stroke="#1a1a1a" stroke-width="1.2"/>
<line x1="82.5" y1="463.3" x2="90.5" y2="463.3" stroke="#1a1a1a" stroke-width="1.2"/>
<rect x="78.0" y="465.9" width="17.0" height="65.89999999999998" fill="url(#p_checker)" stroke="#1a1a1a" stroke-width="1.3"/>
<line x1="86.5" y1="531.8" x2="86.5" y2="534.6" stroke="#1e1e1e" stroke-width="1"/>
<line x1="110.0" y1="464.9" x2="110.0" y2="467.1" stroke="#1a1a1a" stroke-width="1.2"/>
<line x1="106.0" y1="464.9" x2="114.0" y2="464.9" stroke="#1a1a1a" stroke-width="1.2"/>
<rect x="101.5" y="467.1" width="17.0" height="64.69999999999993" fill="url(#p_hlines2)" stroke="#1a1a1a" stroke-width="1.3"/>
<line x1="110.0" y1="531.8" x2="110.0" y2="534.6" stroke="#1e1e1e" stroke-width="1"/>
<line x1="133.65" y1="458.5" x2="133.65" y2="460.5" stroke="#1a1a1a" stroke-width="1.2"/>
<line x1="129.65" y1="458.5" x2="137.65" y2="458.5" stroke="#1a1a1a" stroke-width="1.2"/>
<rect x="125.3" y="460.5" width="16.700000000000003" height="71.29999999999995" fill="url(#p_vlines2)" stroke="#1a1a1a" stroke-width="1.3"/>
<line x1="133.65" y1="531.8" x2="133.65" y2="534.6" stroke="#1e1e1e" stroke-width="1"/>
<line x1="157.5" y1="473.9" x2="157.5" y2="477.5" stroke="#1a1a1a" stroke-width="1.2"/>
<line x1="153.5" y1="473.9" x2="161.5" y2="473.9" stroke="#1a1a1a" stroke-width="1.2"/>
<rect x="149.2" y="477.5" width="16.600000000000023" height="54.299999999999955" fill="url(#p_diag)" stroke="#1a1a1a" stroke-width="1.3"/>
<line x1="157.5" y1="531.8" x2="157.5" y2="534.6" stroke="#1e1e1e" stroke-width="1"/>
<text stroke="#222" stroke-width="0.2" x="64.2" y="543.4" font-size="6.5" font-weight="bold" text-anchor="end" fill="#222" transform="rotate(-49 64.2 543.4)">Ritonavir vehicle</text>
<text stroke="#222" stroke-width="0.2" x="88.7" y="543.4" font-size="6.5" font-weight="bold" text-anchor="end" fill="#222" transform="rotate(-49 88.7 543.4)">Ritonavir</text>
<text stroke="#222" stroke-width="0.2" x="112.2" y="543.4" font-size="6.5" font-weight="bold" text-anchor="end" fill="#222" transform="rotate(-49 112.2 543.4)">Ritonavir and metformin</text>
<text stroke="#222" stroke-width="0.2" x="136.2" y="543.4" font-size="6.5" font-weight="bold" text-anchor="end" fill="#222" transform="rotate(-49 136.2 543.4)">Metformin</text>
<text stroke="#222" stroke-width="0.2" x="159.7" y="543.4" font-size="6.5" font-weight="bold" text-anchor="end" fill="#222" transform="rotate(-49 159.7 543.4)">Metformin and ritonavir</text>
<rect x="177.6" y="438.2" width="9.2" height="5.4" fill="url(#p_bands)" stroke="#333" stroke-width="0.9"/>
<text stroke="#333" stroke-width="0.2" x="188.8" y="443.2" font-size="6.5" text-anchor="start" fill="#333">Ritonavir vehicle</text>
<rect x="177.6" y="449.7" width="9.2" height="5.4" fill="url(#p_checker)" stroke="#333" stroke-width="0.9"/>
<text stroke="#333" stroke-width="0.2" x="188.8" y="454.7" font-size="6.5" text-anchor="start" fill="#333">Ritonavir</text>
<rect x="177.6" y="460.9" width="9.2" height="5.4" fill="url(#p_hlines2)" stroke="#333" stroke-width="0.9"/>
<text stroke="#333" stroke-width="0.2" x="188.8" y="465.9" font-size="6.5" text-anchor="start" fill="#333">Ritonavir and metformin</text>
<rect x="177.6" y="472.4" width="9.2" height="5.4" fill="url(#p_vlines2)" stroke="#333" stroke-width="0.9"/>
<text stroke="#333" stroke-width="0.2" x="188.8" y="477.4" font-size="6.5" text-anchor="start" fill="#333">Metformin</text>
<rect x="177.6" y="483.4" width="9.2" height="5.4" fill="url(#p_diag)" stroke="#333" stroke-width="0.9"/>
<text stroke="#333" stroke-width="0.2" x="188.8" y="488.4" font-size="6.5" text-anchor="start" fill="#333">Metformin and ritonavir</text>
<text x="275.2" y="437.5" font-size="13" text-anchor="start" fill="#111" stroke="#111" stroke-width="0.55">F</text>
<text stroke="#222" stroke-width="0.2" x="337.8" y="437.0" font-size="7.9" font-weight="bold" text-anchor="middle" fill="#222">GLUT1</text>
<text stroke="#222" stroke-width="0.2" x="458.4" y="437.0" font-size="7.9" font-weight="bold" text-anchor="middle" fill="#222">GLUT4</text>
<text stroke="#222" stroke-width="0.2" x="0" y="0" font-size="8.0" font-weight="bold" fill="#222" text-anchor="middle" transform="translate(283 487.9) rotate(-90)">Vehicle</text>
<clipPath id="clip11"><rect x="287.2" y="443.3" width="108.60000000000002" height="91.90000000000003"/></clipPath>
<g clip-path="url(#clip11)">
<rect x="287.2" y="443.3" width="108.60000000000002" height="91.90000000000003" fill="#acaed3"/>
<rect x="287.2" y="443.3" width="108.60000000000002" height="91.90000000000003" filter="url(#mottleL)" opacity="0.22"/>
<rect x="287.2" y="443.3" width="108.60000000000002" height="91.90000000000003" filter="url(#mottleD)" opacity="0.55"/>
<circle cx="373.3" cy="451.9" r="1.1" fill="#fbfbfe" opacity="0.92"/>
<circle cx="335.0" cy="520.7" r="0.9" fill="#fbfbfe" opacity="0.92"/>
<circle cx="359.1" cy="485.3" r="2.0" fill="#fbfbfe" opacity="0.92"/>
<circle cx="370.4" cy="480.1" r="1.3" fill="#fbfbfe" opacity="0.92"/>
<circle cx="379.2" cy="443.4" r="1.6" fill="#fbfbfe" opacity="0.92"/>
<circle cx="369.5" cy="454.1" r="0.5" fill="#fbfbfe" opacity="0.92"/>
<circle cx="373.8" cy="459.6" r="0.7" fill="#fbfbfe" opacity="0.92"/>
<circle cx="366.7" cy="455.3" r="0.8" fill="#fbfbfe" opacity="0.92"/>
<circle cx="392.6" cy="517.1" r="1.4" fill="#fbfbfe" opacity="0.92"/>
<circle cx="371.1" cy="473.5" r="0.6" fill="#fbfbfe" opacity="0.92"/>
<circle cx="385.9" cy="518.5" r="1.1" fill="#fbfbfe" opacity="0.92"/>
<circle cx="291.4" cy="531.8" r="0.7" fill="#fbfbfe" opacity="0.92"/>
<circle cx="306.3" cy="509.5" r="0.9" fill="#fbfbfe" opacity="0.92"/>
<circle cx="317.6" cy="527.6" r="0.7" fill="#fbfbfe" opacity="0.92"/>
<circle cx="384.0" cy="533.4" r="1.0" fill="#fbfbfe" opacity="0.92"/>
<circle cx="339.6" cy="510.4" r="1.4" fill="#fbfbfe" opacity="0.92"/>
<circle cx="346.5" cy="511.0" r="1.1" fill="#fbfbfe" opacity="0.92"/>
<circle cx="373.3" cy="527.4" r="1.2" fill="#fbfbfe" opacity="0.92"/>
<circle cx="395.1" cy="524.2" r="1.1" fill="#fbfbfe" opacity="0.92"/>
<circle cx="296.3" cy="512.2" r="0.9" fill="#fbfbfe" opacity="0.92"/>
<circle cx="312.2" cy="507.5" r="1.2" fill="#fbfbfe" opacity="0.92"/>
<circle cx="319.9" cy="505.6" r="1.2" fill="#fbfbfe" opacity="0.92"/>
<circle cx="322.7" cy="504.5" r="1.1" fill="#fbfbfe" opacity="0.92"/>
<circle cx="386.5" cy="524.2" r="0.8" fill="#fbfbfe" opacity="0.92"/>
<circle cx="332.2" cy="500.8" r="1.2" fill="#fbfbfe" opacity="0.92"/>
<circle cx="393.8" cy="484.9" r="1.2" fill="#fbfbfe" opacity="0.92"/>
<circle cx="320.8" cy="516.0" r="0.9" fill="#fbfbfe" opacity="0.92"/>
<circle cx="289.9" cy="519.5" r="0.5" fill="#fbfbfe" opacity="0.92"/>
<circle cx="338.5" cy="508.9" r="0.8" fill="#fbfbfe" opacity="0.92"/>
<circle cx="362.9" cy="491.1" r="1.6" fill="#fbfbfe" opacity="0.92"/>
<circle cx="373.2" cy="526.6" r="1.8" fill="#fbfbfe" opacity="0.92"/>
<circle cx="373.7" cy="530.1" r="0.7" fill="#fbfbfe" opacity="0.92"/>
<circle cx="356.9" cy="509.3" r="2.0" fill="#fbfbfe" opacity="0.92"/>
<circle cx="375.1" cy="449.2" r="0.8" fill="#fbfbfe" opacity="0.92"/>
<circle cx="372.8" cy="456.2" r="1.1" fill="#fbfbfe" opacity="0.92"/>
<circle cx="390.3" cy="451.2" r="0.7" fill="#fbfbfe" opacity="0.92"/>
<circle cx="366.4" cy="502.0" r="1.7" fill="#fbfbfe" opacity="0.92"/>
<circle cx="379.0" cy="526.1" r="2.0" fill="#fbfbfe" opacity="0.92"/>
<circle cx="344.1" cy="496.0" r="0.9" fill="#fbfbfe" opacity="0.92"/>
<circle cx="391.1" cy="528.2" r="0.6" fill="#fbfbfe" opacity="0.92"/>
<circle cx="301.3" cy="514.9" r="0.7" fill="#fbfbfe" opacity="0.92"/>
<circle cx="361.8" cy="472.9" r="0.6" fill="#fbfbfe" opacity="0.92"/>
<circle cx="366.6" cy="454.6" r="0.7" fill="#fbfbfe" opacity="0.92"/>
<circle cx="380.2" cy="464.7" r="1.9" fill="#fbfbfe" opacity="0.92"/>
<circle cx="383.6" cy="455.6" r="0.7" fill="#fbfbfe" opacity="0.92"/>
<circle cx="297.7" cy="519.8" r="1.4" fill="#fbfbfe" opacity="0.92"/>
<circle cx="330.9" cy="506.3" r="1.0" fill="#fbfbfe" opacity="0.92"/>
<circle cx="386.2" cy="532.3" r="1.1" fill="#fbfbfe" opacity="0.92"/>
<circle cx="341.8" cy="506.3" r="0.6" fill="#fbfbfe" opacity="0.92"/>
<circle cx="387.9" cy="452.1" r="1.6" fill="#fbfbfe" opacity="0.92"/>
<circle cx="370.2" cy="473.3" r="0.8" fill="#fbfbfe" opacity="0.92"/>
<circle cx="378.9" cy="460.0" r="0.8" fill="#fbfbfe" opacity="0.92"/>
<circle cx="384.2" cy="517.0" r="1.7" fill="#fbfbfe" opacity="0.92"/>
<circle cx="393.9" cy="517.3" r="1.8" fill="#fbfbfe" opacity="0.92"/>
<circle cx="384.6" cy="524.2" r="1.8" fill="#fbfbfe" opacity="0.92"/>
<circle cx="331.3" cy="509.7" r="0.9" fill="#fbfbfe" opacity="0.92"/>
<circle cx="356.6" cy="500.6" r="1.8" fill="#fbfbfe" opacity="0.92"/>
<circle cx="323.9" cy="503.9" r="0.8" fill="#fbfbfe" opacity="0.92"/>
<circle cx="395.8" cy="502.3" r="2.0" fill="#fbfbfe" opacity="0.92"/>
<circle cx="375.1" cy="450.3" r="1.3" fill="#fbfbfe" opacity="0.92"/>
<circle cx="293.6" cy="530.2" r="1.0" fill="#fbfbfe" opacity="0.92"/>
<circle cx="358.3" cy="494.8" r="0.7" fill="#fbfbfe" opacity="0.92"/>
<circle cx="369.2" cy="479.1" r="0.5" fill="#fbfbfe" opacity="0.92"/>
<circle cx="394.6" cy="530.1" r="1.6" fill="#fbfbfe" opacity="0.92"/>
<circle cx="365.7" cy="486.3" r="1.7" fill="#fbfbfe" opacity="0.92"/>
<circle cx="335.3" cy="504.7" r="1.0" fill="#fbfbfe" opacity="0.92"/>
<circle cx="332.8" cy="514.8" r="2.0" fill="#fbfbfe" opacity="0.92"/>
<circle cx="366.9" cy="465.2" r="1.8" fill="#fbfbfe" opacity="0.92"/>
<circle cx="355.1" cy="476.3" r="1.0" fill="#fbfbfe" opacity="0.92"/>
<circle cx="351.5" cy="501.5" r="0.7" fill="#fbfbfe" opacity="0.92"/>
<circle cx="360.6" cy="493.9" r="0.9" fill="#fbfbfe" opacity="0.92"/>
<circle cx="315.2" cy="517.7" r="1.3" fill="#fbfbfe" opacity="0.92"/>
<circle cx="382.2" cy="450.5" r="0.9" fill="#fbfbfe" opacity="0.92"/>
<circle cx="365.9" cy="507.1" r="0.8" fill="#fbfbfe" opacity="0.92"/>
<circle cx="366.0" cy="477.0" r="1.0" fill="#fbfbfe" opacity="0.92"/>
<circle cx="387.0" cy="529.7" r="1.1" fill="#fbfbfe" opacity="0.92"/>
<circle cx="384.4" cy="466.1" r="0.8" fill="#fbfbfe" opacity="0.92"/>
<circle cx="306.4" cy="513.0" r="0.5" fill="#fbfbfe" opacity="0.92"/>
<circle cx="367.2" cy="525.9" r="0.6" fill="#fbfbfe" opacity="0.92"/>
<circle cx="368.2" cy="502.9" r="1.1" fill="#fbfbfe" opacity="0.92"/>
<circle cx="343.8" cy="513.6" r="1.3" fill="#fbfbfe" opacity="0.92"/>
<circle cx="360.2" cy="488.7" r="1.1" fill="#fbfbfe" opacity="0.92"/>
<circle cx="383.7" cy="531.3" r="1.1" fill="#fbfbfe" opacity="0.92"/>
<circle cx="374.3" cy="482.0" r="1.1" fill="#fbfbfe" opacity="0.92"/>
<circle cx="357.6" cy="514.6" r="0.9" fill="#fbfbfe" opacity="0.92"/>
<circle cx="312.8" cy="509.2" r="0.6" fill="#fbfbfe" opacity="0.92"/>
<circle cx="369.5" cy="471.9" r="1.6" fill="#fbfbfe" opacity="0.92"/>
<circle cx="358.6" cy="465.1" r="0.8" fill="#fbfbfe" opacity="0.92"/>
<circle cx="370.9" cy="443.4" r="1.9" fill="#fbfbfe" opacity="0.92"/>
<circle cx="365.0" cy="452.2" r="1.3" fill="#fbfbfe" opacity="0.92"/>
<circle cx="297.1" cy="519.2" r="0.9" fill="#fbfbfe" opacity="0.92"/>
<circle cx="304.3" cy="519.8" r="0.6" fill="#fbfbfe" opacity="0.92"/>
<circle cx="326.3" cy="506.4" r="0.9" fill="#fbfbfe" opacity="0.92"/>
<circle cx="392.2" cy="519.6" r="0.8" fill="#fbfbfe" opacity="0.92"/>
<circle cx="364.3" cy="465.1" r="0.5" fill="#fbfbfe" opacity="0.92"/>
<circle cx="394.9" cy="516.8" r="0.7" fill="#fbfbfe" opacity="0.92"/>
<circle cx="359.6" cy="466.9" r="0.8" fill="#fbfbfe" opacity="0.92"/>
<circle cx="323.2" cy="519.3" r="0.6" fill="#fbfbfe" opacity="0.92"/>
<circle cx="360.8" cy="508.4" r="1.2" fill="#fbfbfe" opacity="0.92"/>
<circle cx="342.8" cy="502.8" r="1.6" fill="#fbfbfe" opacity="0.92"/>
<circle cx="358.9" cy="499.2" r="0.8" fill="#fbfbfe" opacity="0.92"/>
<circle cx="364.7" cy="534.0" r="1.2" fill="#fbfbfe" opacity="0.92"/>
<circle cx="348.1" cy="494.8" r="2.0" fill="#fbfbfe" opacity="0.92"/>
<circle cx="376.0" cy="498.6" r="1.5" fill="#fbfbfe" opacity="0.92"/>
<circle cx="377.4" cy="460.4" r="0.5" fill="#fbfbfe" opacity="0.92"/>
<circle cx="389.2" cy="503.8" r="1.1" fill="#fbfbfe" opacity="0.92"/>
<circle cx="329.2" cy="495.6" r="0.7" fill="#fbfbfe" opacity="0.92"/>
<circle cx="291.3" cy="505.0" r="1.7" fill="#fbfbfe" opacity="0.92"/>
<circle cx="380.1" cy="480.9" r="1.2" fill="#fbfbfe" opacity="0.92"/>
<circle cx="385.4" cy="472.8" r="1.2" fill="#fbfbfe" opacity="0.92"/>
<circle cx="366.7" cy="498.2" r="1.0" fill="#fbfbfe" opacity="0.92"/>
<circle cx="333.0" cy="517.3" r="1.0" fill="#fbfbfe" opacity="0.92"/>
<circle cx="388.6" cy="533.1" r="0.7" fill="#fbfbfe" opacity="0.92"/>
<circle cx="387.4" cy="525.7" r="1.5" fill="#fbfbfe" opacity="0.92"/>
<circle cx="382.7" cy="534.8" r="0.7" fill="#fbfbfe" opacity="0.92"/>
<circle cx="382.8" cy="447.9" r="0.8" fill="#fbfbfe" opacity="0.92"/>
<circle cx="385.0" cy="523.2" r="1.1" fill="#fbfbfe" opacity="0.92"/>
<circle cx="320.6" cy="508.6" r="0.7" fill="#fbfbfe" opacity="0.92"/>
<circle cx="387.8" cy="504.6" r="0.6" fill="#fbfbfe" opacity="0.92"/>
<circle cx="374.4" cy="451.3" r="1.5" fill="#fbfbfe" opacity="0.92"/>
<circle cx="384.6" cy="534.1" r="1.1" fill="#fbfbfe" opacity="0.92"/>
<circle cx="347.6" cy="502.6" r="1.1" fill="#fbfbfe" opacity="0.92"/>
<circle cx="361.5" cy="491.1" r="1.1" fill="#fbfbfe" opacity="0.92"/>
<circle cx="335.0" cy="514.3" r="1.5" fill="#fbfbfe" opacity="0.92"/>
<circle cx="350.2" cy="489.2" r="1.1" fill="#fbfbfe" opacity="0.92"/>
<circle cx="349.4" cy="523.5" r="0.5" fill="#fbfbfe" opacity="0.92"/>
<circle cx="315.8" cy="516.7" r="1.7" fill="#fbfbfe" opacity="0.92"/>
<circle cx="346.2" cy="516.0" r="0.7" fill="#fbfbfe" opacity="0.92"/>
<circle cx="354.7" cy="491.6" r="0.6" fill="#fbfbfe" opacity="0.92"/>
<circle cx="376.3" cy="459.1" r="1.1" fill="#fbfbfe" opacity="0.92"/>
<circle cx="377.4" cy="515.6" r="0.8" fill="#fbfbfe" opacity="0.92"/>
<circle cx="369.9" cy="533.9" r="1.1" fill="#fbfbfe" opacity="0.92"/>
<circle cx="383.9" cy="456.3" r="0.8" fill="#fbfbfe" opacity="0.92"/>
<circle cx="395.4" cy="513.4" r="0.7" fill="#fbfbfe" opacity="0.92"/>
<circle cx="328.6" cy="515.1" r="0.6" fill="#fbfbfe" opacity="0.92"/>
<circle cx="295.1" cy="506.8" r="0.5" fill="#fbfbfe" opacity="0.92"/>
<circle cx="303.9" cy="529.4" r="1.8" fill="#fbfbfe" opacity="0.92"/>
<circle cx="385.7" cy="445.2" r="0.6" fill="#fbfbfe" opacity="0.92"/>
<circle cx="333.3" cy="493.3" r="0.7" fill="#fbfbfe" opacity="0.92"/>
<circle cx="366.0" cy="504.5" r="0.7" fill="#fbfbfe" opacity="0.92"/>
<circle cx="364.6" cy="480.5" r="1.5" fill="#fbfbfe" opacity="0.92"/>
<circle cx="375.0" cy="533.0" r="1.2" fill="#fbfbfe" opacity="0.92"/>
<circle cx="390.9" cy="523.1" r="0.6" fill="#fbfbfe" opacity="0.92"/>
<circle cx="359.4" cy="465.3" r="0.8" fill="#fbfbfe" opacity="0.92"/>
<circle cx="347.3" cy="507.6" r="0.8" fill="#fbfbfe" opacity="0.92"/>
<circle cx="350.8" cy="486.4" r="0.5" fill="#fbfbfe" opacity="0.92"/>
<circle cx="315.6" cy="504.7" r="1.0" fill="#fbfbfe" opacity="0.92"/>
<circle cx="328.7" cy="526.9" r="0.9" fill="#fbfbfe" opacity="0.92"/>
<circle cx="361.1" cy="464.9" r="0.8" fill="#fbfbfe" opacity="0.92"/>
<circle cx="346.7" cy="500.7" r="2.0" fill="#fbfbfe" opacity="0.92"/>
<circle cx="376.7" cy="458.0" r="1.0" fill="#fbfbfe" opacity="0.92"/>
<circle cx="368.5" cy="492.4" r="0.8" fill="#fbfbfe" opacity="0.92"/>
<circle cx="298.3" cy="508.1" r="1.1" fill="#fbfbfe" opacity="0.92"/>
<circle cx="381.3" cy="523.2" r="0.9" fill="#fbfbfe" opacity="0.92"/>
<circle cx="373.7" cy="479.4" r="1.1" fill="#fbfbfe" opacity="0.92"/>
<circle cx="359.9" cy="464.5" r="1.0" fill="#fbfbfe" opacity="0.92"/>
<circle cx="389.4" cy="532.5" r="0.8" fill="#fbfbfe" opacity="0.92"/>
<circle cx="364.7" cy="454.2" r="1.1" fill="#fbfbfe" opacity="0.92"/>
<circle cx="320.8" cy="516.9" r="0.8" fill="#fbfbfe" opacity="0.92"/>
<circle cx="329.5" cy="507.1" r="1.4" fill="#fbfbfe" opacity="0.92"/>
<polygon points="280.0,540.0 300.0,537.5 315.0,535.0 335.0,531.5 350.4,527.6 362.0,521.0 371.6,512.8 379.0,504.0 384.3,495.8 388.0,487.5 390.6,479.0 393.8,464.0 395.5,450.0 396.2,440.0 398.8,538.2 284.2,538.2" fill="#e6e5f0"/>
<path d="M 330 537 Q 360 528 380 512 Q 392 500 398 485" fill="none" stroke="#f4f4fa" stroke-width="1.5"/><path d="M 389 537 L 390 500 Q 393 485 397 472 L 397 537 Z" fill="#d0d0e6" opacity="0.8"/><path d="M 350 537 Q 372 526 386 512" fill="none" stroke="#d6d4e8" stroke-width="1"/>
<polyline points="280.0,540.0 300.0,537.5 315.0,535.0 335.0,531.5 350.4,527.6 362.0,521.0 371.6,512.8 379.0,504.0 384.3,495.8 388.0,487.5 390.6,479.0 393.8,464.0 395.5,450.0 396.2,440.0" fill="none" stroke="#f6f5fa" stroke-width="3"/>
</g>
<clipPath id="clip12"><rect x="400.8" y="443.4" width="110.0" height="91.20000000000005"/></clipPath>
<g clip-path="url(#clip12)">
<rect x="400.8" y="443.4" width="110.0" height="91.20000000000005" fill="#aaabd0"/>
<rect x="400.8" y="443.4" width="110" height="91.2" fill="url(#g_band)"/>
<rect x="400.8" y="443.4" width="110.0" height="91.20000000000005" filter="url(#mottleL)" opacity="0.22"/>
<rect x="400.8" y="443.4" width="110.0" height="91.20000000000005" filter="url(#mottleD)" opacity="0.55"/>
<circle cx="453.0" cy="503.4" r="0.5" fill="#fbfbfe" opacity="0.92"/>
<circle cx="473.5" cy="456.7" r="1.2" fill="#fbfbfe" opacity="0.92"/>
<circle cx="407.3" cy="518.1" r="0.8" fill="#fbfbfe" opacity="0.92"/>
<circle cx="501.5" cy="489.8" r="2.0" fill="#fbfbfe" opacity="0.92"/>
<circle cx="435.2" cy="500.1" r="0.5" fill="#fbfbfe" opacity="0.92"/>
<circle cx="446.9" cy="497.8" r="0.5" fill="#fbfbfe" opacity="0.92"/>
<circle cx="473.8" cy="475.9" r="1.0" fill="#fbfbfe" opacity="0.92"/>
<circle cx="448.1" cy="490.7" r="0.8" fill="#fbfbfe" opacity="0.92"/>
<circle cx="485.7" cy="452.8" r="1.1" fill="#fbfbfe" opacity="0.92"/>
<circle cx="438.7" cy="501.5" r="0.7" fill="#fbfbfe" opacity="0.92"/>
<circle cx="453.7" cy="530.6" r="1.6" fill="#fbfbfe" opacity="0.92"/>
<circle cx="485.6" cy="474.6" r="0.5" fill="#fbfbfe" opacity="0.92"/>
<circle cx="487.4" cy="519.3" r="0.9" fill="#fbfbfe" opacity="0.92"/>
<circle cx="453.3" cy="500.6" r="1.9" fill="#fbfbfe" opacity="0.92"/>
<circle cx="504.6" cy="490.4" r="0.7" fill="#fbfbfe" opacity="0.92"/>
<circle cx="508.5" cy="494.5" r="2.0" fill="#fbfbfe" opacity="0.92"/>
<circle cx="484.4" cy="481.5" r="1.9" fill="#fbfbfe" opacity="0.92"/>
<circle cx="464.6" cy="475.1" r="1.0" fill="#fbfbfe" opacity="0.92"/>
<circle cx="402.7" cy="508.2" r="1.9" fill="#fbfbfe" opacity="0.92"/>
<circle cx="436.4" cy="505.9" r="0.7" fill="#fbfbfe" opacity="0.92"/>
<circle cx="503.6" cy="476.7" r="0.9" fill="#fbfbfe" opacity="0.92"/>
<circle cx="420.5" cy="504.3" r="0.8" fill="#fbfbfe" opacity="0.92"/>
<circle cx="493.5" cy="466.2" r="1.9" fill="#fbfbfe" opacity="0.92"/>
<circle cx="444.3" cy="504.8" r="1.7" fill="#fbfbfe" opacity="0.92"/>
<circle cx="475.7" cy="475.3" r="0.9" fill="#fbfbfe" opacity="0.92"/>
<circle cx="425.6" cy="493.0" r="1.1" fill="#fbfbfe" opacity="0.92"/>
<circle cx="471.3" cy="520.3" r="1.6" fill="#fbfbfe" opacity="0.92"/>
<circle cx="468.8" cy="467.4" r="0.8" fill="#fbfbfe" opacity="0.92"/>
<circle cx="428.8" cy="532.0" r="1.2" fill="#fbfbfe" opacity="0.92"/>
<circle cx="496.9" cy="518.3" r="0.7" fill="#fbfbfe" opacity="0.92"/>
<circle cx="418.8" cy="508.7" r="0.6" fill="#fbfbfe" opacity="0.92"/>
<circle cx="459.8" cy="484.3" r="1.1" fill="#fbfbfe" opacity="0.92"/>
<circle cx="456.4" cy="501.4" r="0.8" fill="#fbfbfe" opacity="0.92"/>
<circle cx="446.4" cy="490.5" r="1.2" fill="#fbfbfe" opacity="0.92"/>
<circle cx="506.0" cy="505.6" r="1.0" fill="#fbfbfe" opacity="0.92"/>
<circle cx="483.7" cy="519.9" r="0.6" fill="#fbfbfe" opacity="0.92"/>
<circle cx="413.2" cy="505.9" r="2.0" fill="#fbfbfe" opacity="0.92"/>
<circle cx="482.9" cy="530.0" r="1.2" fill="#fbfbfe" opacity="0.92"/>
<circle cx="447.4" cy="492.9" r="0.6" fill="#fbfbfe" opacity="0.92"/>
<circle cx="467.6" cy="530.3" r="2.0" fill="#fbfbfe" opacity="0.92"/>
<circle cx="466.8" cy="504.4" r="0.9" fill="#fbfbfe" opacity="0.92"/>
<circle cx="481.2" cy="518.7" r="0.8" fill="#fbfbfe" opacity="0.92"/>
<circle cx="422.2" cy="500.3" r="0.7" fill="#fbfbfe" opacity="0.92"/>
<circle cx="443.2" cy="499.3" r="1.3" fill="#fbfbfe" opacity="0.92"/>
<circle cx="482.7" cy="466.4" r="1.1" fill="#fbfbfe" opacity="0.92"/>
<circle cx="466.3" cy="496.0" r="0.8" fill="#fbfbfe" opacity="0.92"/>
<circle cx="510.5" cy="473.5" r="0.6" fill="#fbfbfe" opacity="0.92"/>
<circle cx="437.4" cy="503.4" r="1.0" fill="#fbfbfe" opacity="0.92"/>
<circle cx="408.9" cy="504.6" r="1.1" fill="#fbfbfe" opacity="0.92"/>
<circle cx="509.7" cy="504.8" r="0.7" fill="#fbfbfe" opacity="0.92"/>
<circle cx="493.3" cy="464.7" r="1.0" fill="#fbfbfe" opacity="0.92"/>
<circle cx="465.7" cy="487.1" r="1.2" fill="#fbfbfe" opacity="0.92"/>
<circle cx="443.9" cy="485.8" r="1.1" fill="#fbfbfe" opacity="0.92"/>
<circle cx="479.4" cy="475.8" r="1.2" fill="#fbfbfe" opacity="0.92"/>
<circle cx="442.6" cy="488.1" r="1.4" fill="#fbfbfe" opacity="0.92"/>
<circle cx="501.0" cy="513.2" r="1.5" fill="#fbfbfe" opacity="0.92"/>
<circle cx="459.5" cy="526.1" r="0.6" fill="#fbfbfe" opacity="0.92"/>
<circle cx="493.0" cy="519.9" r="0.5" fill="#fbfbfe" opacity="0.92"/>
<circle cx="458.2" cy="494.6" r="1.7" fill="#fbfbfe" opacity="0.92"/>
<circle cx="460.6" cy="520.7" r="1.3" fill="#fbfbfe" opacity="0.92"/>
<circle cx="469.3" cy="533.7" r="1.1" fill="#fbfbfe" opacity="0.92"/>
<circle cx="475.3" cy="522.7" r="0.7" fill="#fbfbfe" opacity="0.92"/>
<circle cx="405.5" cy="532.4" r="0.6" fill="#fbfbfe" opacity="0.92"/>
<circle cx="507.1" cy="492.0" r="1.9" fill="#fbfbfe" opacity="0.92"/>
<circle cx="473.5" cy="469.2" r="1.1" fill="#fbfbfe" opacity="0.92"/>
<circle cx="491.4" cy="511.9" r="1.6" fill="#fbfbfe" opacity="0.92"/>
<circle cx="469.3" cy="476.0" r="0.8" fill="#fbfbfe" opacity="0.92"/>
<circle cx="436.6" cy="495.0" r="1.3" fill="#fbfbfe" opacity="0.92"/>
<circle cx="478.5" cy="462.0" r="1.3" fill="#fbfbfe" opacity="0.92"/>
<circle cx="475.5" cy="534.5" r="1.2" fill="#fbfbfe" opacity="0.92"/>
<circle cx="457.4" cy="504.8" r="1.8" fill="#fbfbfe" opacity="0.92"/>
<circle cx="476.1" cy="490.5" r="0.7" fill="#fbfbfe" opacity="0.92"/>
<circle cx="472.3" cy="456.5" r="0.8" fill="#fbfbfe" opacity="0.92"/>
<circle cx="465.4" cy="458.9" r="0.9" fill="#fbfbfe" opacity="0.92"/>
<circle cx="498.7" cy="457.9" r="1.7" fill="#fbfbfe" opacity="0.92"/>
<circle cx="477.1" cy="494.1" r="1.6" fill="#fbfbfe" opacity="0.92"/>
<circle cx="431.1" cy="493.5" r="1.5" fill="#fbfbfe" opacity="0.92"/>
<circle cx="474.5" cy="482.3" r="1.4" fill="#fbfbfe" opacity="0.92"/>
<circle cx="480.1" cy="454.2" r="1.0" fill="#fbfbfe" opacity="0.92"/>
<circle cx="482.5" cy="523.5" r="1.6" fill="#fbfbfe" opacity="0.92"/>
<circle cx="477.4" cy="524.2" r="1.6" fill="#fbfbfe" opacity="0.92"/>
<circle cx="503.4" cy="505.4" r="1.6" fill="#fbfbfe" opacity="0.92"/>
<circle cx="482.7" cy="518.8" r="1.1" fill="#fbfbfe" opacity="0.92"/>
<circle cx="479.3" cy="459.3" r="0.6" fill="#fbfbfe" opacity="0.92"/>
<circle cx="469.3" cy="533.6" r="0.8" fill="#fbfbfe" opacity="0.92"/>
<circle cx="509.1" cy="505.8" r="1.1" fill="#fbfbfe" opacity="0.92"/>
<circle cx="507.2" cy="500.2" r="1.1" fill="#fbfbfe" opacity="0.92"/>
<circle cx="439.5" cy="487.0" r="0.9" fill="#fbfbfe" opacity="0.92"/>
<circle cx="417.4" cy="484.0" r="0.9" fill="#fbfbfe" opacity="0.92"/>
<circle cx="406.4" cy="510.4" r="1.3" fill="#fbfbfe" opacity="0.92"/>
<circle cx="464.6" cy="502.5" r="1.7" fill="#fbfbfe" opacity="0.92"/>
<circle cx="461.0" cy="480.3" r="1.3" fill="#fbfbfe" opacity="0.92"/>
<circle cx="485.8" cy="473.5" r="0.9" fill="#fbfbfe" opacity="0.92"/>
<circle cx="420.9" cy="499.9" r="1.2" fill="#fbfbfe" opacity="0.92"/>
<circle cx="466.5" cy="480.9" r="1.0" fill="#fbfbfe" opacity="0.92"/>
<circle cx="438.7" cy="533.2" r="1.2" fill="#fbfbfe" opacity="0.92"/>
<circle cx="505.2" cy="515.3" r="1.0" fill="#fbfbfe" opacity="0.92"/>
<circle cx="450.6" cy="500.6" r="1.1" fill="#fbfbfe" opacity="0.92"/>
<circle cx="401.4" cy="501.7" r="1.7" fill="#fbfbfe" opacity="0.92"/>
<circle cx="407.4" cy="529.9" r="1.0" fill="#fbfbfe" opacity="0.92"/>
<circle cx="431.6" cy="494.3" r="0.7" fill="#fbfbfe" opacity="0.92"/>
<circle cx="495.1" cy="513.1" r="0.6" fill="#fbfbfe" opacity="0.92"/>
<circle cx="463.9" cy="482.9" r="0.6" fill="#fbfbfe" opacity="0.92"/>
<circle cx="455.4" cy="504.4" r="0.7" fill="#fbfbfe" opacity="0.92"/>
<circle cx="472.0" cy="471.4" r="1.3" fill="#fbfbfe" opacity="0.92"/>
<circle cx="467.0" cy="486.9" r="1.1" fill="#fbfbfe" opacity="0.92"/>
<circle cx="420.1" cy="497.3" r="1.7" fill="#fbfbfe" opacity="0.92"/>
<circle cx="500.9" cy="515.8" r="1.8" fill="#fbfbfe" opacity="0.92"/>
<circle cx="471.9" cy="472.9" r="1.8" fill="#fbfbfe" opacity="0.92"/>
<circle cx="419.9" cy="505.4" r="1.2" fill="#fbfbfe" opacity="0.92"/>
<circle cx="422.5" cy="500.1" r="1.1" fill="#fbfbfe" opacity="0.92"/>
<circle cx="456.3" cy="500.7" r="1.1" fill="#fbfbfe" opacity="0.92"/>
<circle cx="489.7" cy="510.8" r="1.9" fill="#fbfbfe" opacity="0.92"/>
<circle cx="447.8" cy="508.9" r="0.8" fill="#fbfbfe" opacity="0.92"/>
<circle cx="468.2" cy="499.4" r="0.6" fill="#fbfbfe" opacity="0.92"/>
<circle cx="472.0" cy="484.1" r="0.6" fill="#fbfbfe" opacity="0.92"/>
<circle cx="479.6" cy="468.6" r="0.7" fill="#fbfbfe" opacity="0.92"/>
<circle cx="462.2" cy="523.9" r="1.5" fill="#fbfbfe" opacity="0.92"/>
<circle cx="468.1" cy="463.5" r="1.0" fill="#fbfbfe" opacity="0.92"/>
<circle cx="448.1" cy="492.8" r="0.9" fill="#fbfbfe" opacity="0.92"/>
<circle cx="447.4" cy="501.6" r="0.7" fill="#fbfbfe" opacity="0.92"/>
<circle cx="496.6" cy="509.7" r="1.7" fill="#fbfbfe" opacity="0.92"/>
<circle cx="486.9" cy="530.5" r="1.9" fill="#fbfbfe" opacity="0.92"/>
<circle cx="445.4" cy="474.6" r="1.4" fill="#fbfbfe" opacity="0.92"/>
<circle cx="496.7" cy="517.0" r="1.8" fill="#fbfbfe" opacity="0.92"/>
<circle cx="485.2" cy="445.5" r="0.8" fill="#fbfbfe" opacity="0.92"/>
<circle cx="463.4" cy="489.9" r="0.8" fill="#fbfbfe" opacity="0.92"/>
<circle cx="473.6" cy="446.1" r="0.9" fill="#fbfbfe" opacity="0.92"/>
<circle cx="442.9" cy="532.8" r="1.7" fill="#fbfbfe" opacity="0.92"/>
<circle cx="402.1" cy="494.4" r="0.7" fill="#fbfbfe" opacity="0.92"/>
<circle cx="415.4" cy="533.2" r="1.1" fill="#fbfbfe" opacity="0.92"/>
<circle cx="411.4" cy="489.8" r="0.9" fill="#fbfbfe" opacity="0.92"/>
<circle cx="447.3" cy="494.1" r="1.6" fill="#fbfbfe" opacity="0.92"/>
<circle cx="510.5" cy="508.0" r="1.1" fill="#fbfbfe" opacity="0.92"/>
<circle cx="474.4" cy="476.1" r="1.2" fill="#fbfbfe" opacity="0.92"/>
<circle cx="432.9" cy="503.8" r="0.7" fill="#fbfbfe" opacity="0.92"/>
<circle cx="462.0" cy="488.5" r="0.8" fill="#fbfbfe" opacity="0.92"/>
<circle cx="492.7" cy="515.8" r="1.3" fill="#fbfbfe" opacity="0.92"/>
<circle cx="499.9" cy="511.5" r="0.6" fill="#fbfbfe" opacity="0.92"/>
<circle cx="467.5" cy="453.4" r="0.5" fill="#fbfbfe" opacity="0.92"/>
<circle cx="434.6" cy="500.9" r="1.5" fill="#fbfbfe" opacity="0.92"/>
<circle cx="406.1" cy="517.4" r="1.7" fill="#fbfbfe" opacity="0.92"/>
<circle cx="476.3" cy="456.7" r="1.5" fill="#fbfbfe" opacity="0.92"/>
<circle cx="479.3" cy="515.3" r="1.4" fill="#fbfbfe" opacity="0.92"/>
<circle cx="455.4" cy="490.3" r="0.9" fill="#fbfbfe" opacity="0.92"/>
<circle cx="487.0" cy="466.6" r="1.5" fill="#fbfbfe" opacity="0.92"/>
<circle cx="436.1" cy="474.5" r="1.0" fill="#fbfbfe" opacity="0.92"/>
<circle cx="453.6" cy="506.5" r="1.3" fill="#fbfbfe" opacity="0.92"/>
<circle cx="477.4" cy="472.4" r="0.6" fill="#fbfbfe" opacity="0.92"/>
<circle cx="439.3" cy="499.6" r="1.7" fill="#fbfbfe" opacity="0.92"/>
<circle cx="492.1" cy="471.5" r="0.8" fill="#fbfbfe" opacity="0.92"/>
<circle cx="482.2" cy="459.8" r="1.4" fill="#fbfbfe" opacity="0.92"/>
<circle cx="443.6" cy="479.3" r="0.8" fill="#fbfbfe" opacity="0.92"/>
<circle cx="482.4" cy="484.0" r="1.0" fill="#fbfbfe" opacity="0.92"/>
<circle cx="510.4" cy="493.2" r="1.1" fill="#fbfbfe" opacity="0.92"/>
<circle cx="491.7" cy="471.7" r="0.7" fill="#fbfbfe" opacity="0.92"/>
<circle cx="457.2" cy="484.1" r="0.7" fill="#fbfbfe" opacity="0.92"/>
<circle cx="477.9" cy="528.9" r="1.1" fill="#fbfbfe" opacity="0.92"/>
<circle cx="406.5" cy="517.0" r="0.5" fill="#fbfbfe" opacity="0.92"/>
<circle cx="451.6" cy="484.7" r="0.6" fill="#fbfbfe" opacity="0.92"/>
<polygon points="385.0,527.0 400.0,525.0 421.4,522.0 449.0,516.7 470.5,509.2 485.5,498.6 494.0,485.7 500.4,470.8 504.7,455.8 506.8,443.0 507.2,430.0 513.8,537.6 397.8,537.6" fill="#e6e4ee"/>
<path d="M 497 536 Q 498 520 504 514 L 512 512 L 512 536 Z" fill="#d4c8e0" opacity="0.8"/><path d="M 399 531 Q 430 526 462 520" fill="none" stroke="#c8c0dc" stroke-width="1.5"/><path d="M 508.5 443 Q 509 475 500 500 L 503 500 Q 512 475 512 443 Z" fill="#a8a8d2"/>
<polyline points="385.0,527.0 400.0,525.0 421.4,522.0 449.0,516.7 470.5,509.2 485.5,498.6 494.0,485.7 500.4,470.8 504.7,455.8 506.8,443.0 507.2,430.0" fill="none" stroke="#f6f5fa" stroke-width="3"/>
</g>
<line x1="447.5" y1="527.8" x2="454.6" y2="512.0" stroke="#111" stroke-width="1.2"/>
<polygon points="454.6,512.0 454.92,517.63 450.18,515.49" fill="#111"/>
<line x1="480.9" y1="509.8" x2="480.9" y2="490.7" stroke="#111" stroke-width="1.2"/>
<polygon points="480.9,490.7 483.50,495.70 478.30,495.70" fill="#111"/>
</svg>
</body></html>
